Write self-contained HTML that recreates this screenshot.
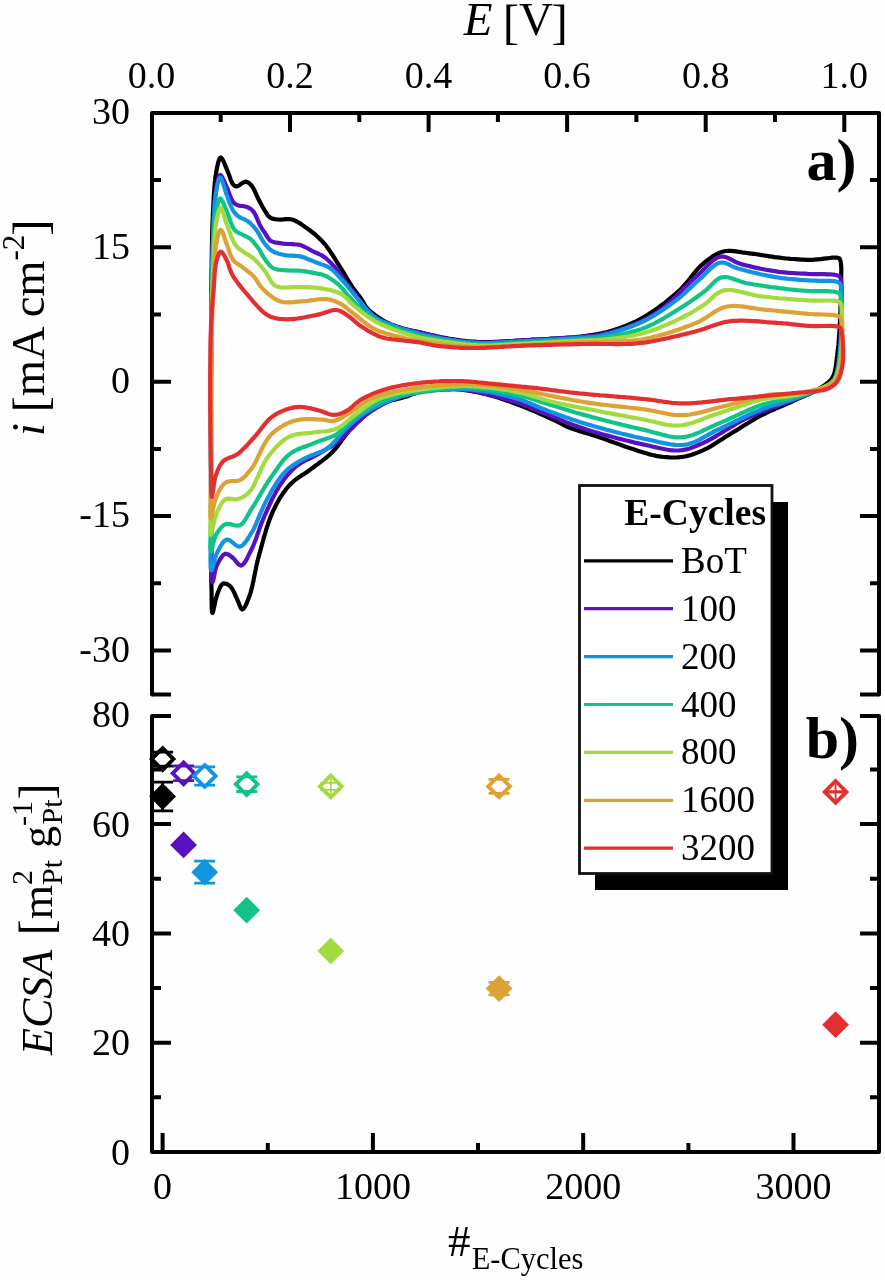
<!DOCTYPE html>
<html><head><meta charset="utf-8"><style>
html,body{margin:0;padding:0;background:#fff;}
svg{display:block;filter:blur(0.6px);}
</style></head><body>
<svg width="885" height="1280" viewBox="0 0 885 1280">
<rect width="885" height="1280" fill="#fefefe"/>
<path d="M212.5,613.0 212.2,612.5 212.0,611.1 211.8,609.0 211.7,606.4 211.7,603.3 211.6,600.0 211.6,596.6 211.6,593.2 211.5,590.0 211.5,588.0 211.4,585.8 211.4,583.7 211.3,581.5 211.3,579.2 211.3,576.9 211.3,574.5 211.3,572.1 211.3,569.6 211.3,567.1 211.2,564.6 211.2,562.0 211.2,559.3 211.2,556.7 211.2,554.0 211.2,551.2 211.2,548.5 211.2,545.7 211.2,542.9 211.2,540.0 211.2,537.8 211.2,535.7 211.2,533.4 211.2,531.2 211.2,528.9 211.2,526.6 211.1,524.2 211.1,521.9 211.1,519.5 211.1,517.0 211.1,514.6 211.1,512.1 211.1,509.6 211.1,507.1 211.1,504.6 211.1,502.1 211.1,499.5 211.1,496.9 211.1,494.4 211.1,491.8 211.1,489.2 211.1,486.6 211.0,483.9 211.0,481.3 211.0,478.7 211.0,476.1 211.0,473.4 211.0,470.8 211.0,468.2 211.0,465.6 211.0,463.0 211.0,460.4 211.0,457.7 211.0,455.2 211.0,452.6 211.0,450.0 211.0,447.6 211.0,445.1 211.0,442.6 211.0,440.1 211.0,437.6 211.0,435.1 211.0,432.6 211.0,430.1 211.0,427.5 211.0,425.0 211.0,422.4 211.0,419.8 211.0,417.3 211.0,414.7 211.0,412.1 211.0,409.5 211.0,406.9 210.9,404.4 210.9,401.8 210.9,399.2 210.9,396.6 210.9,394.1 210.9,391.5 210.9,389.0 210.9,386.4 210.9,383.9 210.9,381.4 210.9,378.9 210.9,376.4 210.9,373.9 211.0,371.4 211.0,368.9 211.0,366.5 211.0,364.1 211.0,361.7 211.0,359.3 211.0,356.9 211.0,354.6 211.0,352.3 211.0,350.0 211.0,347.3 211.0,344.6 211.0,342.0 211.0,339.3 211.1,336.7 211.1,334.1 211.1,331.6 211.1,329.0 211.1,326.5 211.1,324.0 211.1,321.5 211.1,319.0 211.2,316.5 211.2,314.0 211.2,311.6 211.2,309.1 211.2,306.7 211.2,304.3 211.3,301.8 211.3,299.4 211.3,297.0 211.3,294.6 211.4,292.1 211.4,289.7 211.4,287.3 211.4,284.9 211.5,282.4 211.5,280.0 211.5,277.4 211.6,274.7 211.6,272.1 211.6,269.5 211.7,266.8 211.7,264.2 211.7,261.5 211.7,258.9 211.8,256.3 211.8,253.6 211.8,251.0 211.9,248.4 211.9,245.8 212.0,243.2 212.0,240.6 212.1,238.0 212.1,235.5 212.2,233.0 212.3,230.5 212.3,228.0 212.4,225.5 212.5,223.1 212.6,220.7 212.7,218.3 212.8,216.0 212.9,213.1 213.1,210.3 213.2,207.4 213.4,204.5 213.5,201.6 213.7,198.8 213.8,195.9 214.0,193.1 214.2,190.4 214.4,187.7 214.6,185.2 214.8,182.6 215.1,180.2 215.3,177.9 215.6,175.7 216.0,173.6 216.3,171.7 217.0,167.9 217.8,164.1 218.7,160.8 219.6,158.4 220.7,157.5 221.7,158.2 222.9,160.1 224.2,162.8 225.4,165.9 226.7,169.0 227.8,171.7 228.9,174.5 230.0,177.6 231.0,180.5 232.1,183.0 233.3,184.8 235.1,186.1 237.0,186.5 239.2,185.3 241.5,183.5 243.9,182.2 246.4,181.6 249.2,183.1 251.9,186.0 253.3,188.1 254.6,190.7 255.9,193.5 257.1,196.3 258.4,199.0 259.7,201.5 261.0,204.0 262.4,206.5 263.7,208.9 265.0,211.0 266.6,213.5 268.1,215.8 270.0,217.5 272.3,218.6 274.9,219.1 277.8,219.5 280.4,219.6 283.2,219.4 286.2,219.1 289.1,219.1 292.0,219.5 294.4,220.3 296.8,221.5 299.2,222.9 301.6,224.4 303.9,226.1 306.3,227.8 308.4,229.3 310.5,230.8 312.6,232.5 314.7,234.2 316.8,236.0 318.9,237.9 320.9,239.9 322.9,242.0 324.5,243.8 326.1,245.8 327.6,247.9 329.2,250.1 330.8,252.4 332.3,254.7 333.8,257.0 335.3,259.4 336.7,261.6 338.1,263.9 339.4,266.0 340.7,268.0 342.3,270.6 343.9,273.2 345.3,275.6 346.7,278.0 348.1,280.4 349.5,282.7 351.0,285.0 352.7,287.5 354.5,289.9 356.3,292.2 358.0,294.6 359.7,296.8 361.3,299.0 362.9,301.6 364.3,304.1 365.8,306.6 367.8,309.0 369.6,310.7 371.6,312.5 373.9,314.2 376.3,316.0 378.8,317.7 381.3,319.3 383.7,320.7 386.0,322.0 388.3,323.2 390.6,324.2 392.9,325.1 395.2,325.9 397.5,326.7 400.0,327.5 402.3,328.2 404.6,328.9 407.0,329.5 409.5,330.1 412.0,330.7 414.6,331.3 417.3,331.9 420.0,332.5 422.3,333.0 424.8,333.6 427.3,334.2 429.9,334.8 432.5,335.4 435.1,335.9 437.8,336.5 440.5,337.1 443.1,337.6 445.8,338.1 448.4,338.6 451.0,339.0 453.6,339.4 456.2,339.8 458.8,340.2 461.3,340.5 463.8,340.8 466.4,341.1 468.9,341.3 471.6,341.6 474.3,341.7 477.1,341.9 480.0,342.0 482.2,342.1 484.5,342.1 486.9,342.1 489.2,342.0 491.7,342.0 494.1,341.9 496.6,341.8 499.1,341.7 501.7,341.6 504.3,341.4 506.9,341.3 509.5,341.1 512.1,341.0 514.8,340.8 517.4,340.6 520.1,340.5 522.7,340.3 525.4,340.2 528.0,340.0 530.5,339.9 533.1,339.7 535.7,339.6 538.3,339.5 541.0,339.3 543.7,339.2 546.4,339.0 549.2,338.9 551.9,338.7 554.7,338.6 557.4,338.4 560.1,338.3 562.8,338.1 565.5,337.9 568.1,337.7 570.7,337.5 573.3,337.3 575.8,337.1 578.2,336.8 580.5,336.6 582.8,336.3 585.0,336.0 588.0,335.6 590.9,335.2 593.6,334.7 596.3,334.3 598.9,333.8 601.4,333.3 603.9,332.7 606.4,332.2 608.9,331.5 611.4,330.8 614.0,330.0 616.3,329.2 618.6,328.5 620.9,327.7 623.3,326.8 625.6,325.9 627.9,325.0 630.2,324.0 632.5,323.0 634.8,321.9 637.1,320.8 639.4,319.6 641.7,318.3 644.0,317.0 646.1,315.8 648.2,314.5 650.3,313.1 652.5,311.7 654.6,310.2 656.8,308.7 659.0,307.1 661.1,305.5 663.3,303.9 665.4,302.3 667.5,300.6 669.6,298.9 671.6,297.2 673.6,295.5 675.6,293.8 677.5,292.2 679.3,290.5 681.2,288.7 683.0,286.7 684.8,284.8 686.5,282.8 688.2,280.7 689.8,278.7 691.4,276.6 693.0,274.6 694.6,272.7 696.2,270.7 697.8,268.9 699.4,267.2 701.1,265.5 702.8,264.0 705.0,262.2 707.2,260.4 709.5,258.7 711.7,257.1 714.0,255.6 716.3,254.3 718.6,253.2 721.0,252.2 723.4,251.5 725.8,251.0 728.3,250.9 730.8,250.9 733.4,251.1 736.0,251.4 738.6,251.8 741.3,252.2 744.1,252.7 746.9,253.0 749.2,253.3 751.6,253.6 754.0,253.9 756.5,254.3 759.1,254.7 761.7,255.1 764.3,255.5 766.9,255.9 769.5,256.3 772.1,256.7 774.6,257.1 777.2,257.4 779.7,257.7 782.1,258.0 784.9,258.3 787.6,258.5 790.4,258.8 793.1,259.0 795.8,259.2 798.5,259.4 801.1,259.6 803.7,259.7 806.4,259.8 808.9,259.8 811.5,259.8 814.4,259.7 817.5,259.4 820.7,259.1 823.8,258.7 826.8,258.3 829.6,258.0 832.1,257.7 834.3,257.6 836.0,257.6 838.1,257.8 839.5,258.5 840.5,260.8 841.0,264.0 841.2,266.3 841.3,268.8 841.3,271.5 841.2,274.6 841.2,278.0 841.2,279.9 841.2,282.0 841.1,284.3 841.1,286.6 841.0,289.1 841.0,291.7 840.9,294.4 840.9,297.1 840.8,299.8 840.7,302.6 840.6,305.4 840.5,308.1 840.5,310.8 840.3,313.5 840.2,316.1 840.1,318.6 840.0,321.0 839.8,323.8 839.7,326.6 839.5,329.3 839.4,332.0 839.2,334.7 839.0,337.3 838.8,339.9 838.6,342.5 838.4,345.0 838.1,347.5 837.8,350.0 837.5,352.5 837.2,355.2 836.8,357.9 836.5,360.7 836.2,363.4 835.9,366.0 835.4,368.6 834.9,371.1 834.3,373.4 833.5,375.6 832.5,377.5 831.1,379.6 829.4,381.4 827.6,383.0 825.6,384.5 823.4,385.9 821.0,387.5 819.2,388.6 817.2,389.8 815.1,390.9 812.9,392.0 810.6,393.2 808.2,394.3 805.7,395.4 803.2,396.5 800.7,397.6 798.2,398.7 795.8,399.8 793.3,400.9 791.0,402.0 788.5,403.1 786.1,404.2 783.6,405.3 781.2,406.3 778.7,407.4 776.2,408.4 773.8,409.5 771.3,410.6 768.9,411.7 766.4,412.8 764.0,414.0 761.6,415.2 759.3,416.4 757.0,417.7 754.8,419.0 752.5,420.3 750.2,421.7 748.0,423.1 745.7,424.4 743.5,425.8 741.2,427.3 739.0,428.7 736.7,430.1 734.5,431.4 732.2,432.8 729.9,434.2 727.6,435.6 725.3,437.1 723.0,438.6 720.7,440.0 718.4,441.5 716.1,443.0 713.8,444.4 711.6,445.8 709.3,447.1 707.1,448.3 704.9,449.4 702.8,450.4 700.1,451.6 697.5,452.6 695.0,453.6 692.5,454.5 690.0,455.3 687.5,455.9 684.9,456.5 682.3,456.9 679.8,457.2 677.2,457.4 674.6,457.5 672.0,457.5 669.3,457.4 666.7,457.2 664.0,457.0 661.4,456.7 658.8,456.3 656.2,455.9 653.7,455.3 651.2,454.7 648.7,454.1 646.2,453.3 643.7,452.6 641.1,451.7 638.4,450.9 635.6,450.0 633.4,449.3 631.2,448.6 628.9,447.8 626.6,447.0 624.2,446.2 621.8,445.3 619.4,444.4 616.9,443.5 614.5,442.6 612.0,441.7 609.6,440.9 607.1,440.0 604.7,439.1 602.3,438.3 600.0,437.5 597.4,436.6 594.8,435.8 592.1,435.0 589.4,434.1 586.8,433.3 584.1,432.5 581.5,431.7 578.9,430.9 576.4,430.1 574.1,429.3 571.8,428.5 569.7,427.8 567.8,427.0 565.1,425.8 563.0,424.7 560.9,423.5 558.7,422.3 556.0,421.0 554.2,420.2 552.2,419.3 550.1,418.3 547.9,417.3 545.5,416.2 543.1,415.1 540.5,414.0 538.0,412.9 535.3,411.7 532.7,410.6 530.1,409.5 527.5,408.4 524.9,407.4 522.4,406.4 519.9,405.4 517.6,404.5 514.9,403.5 512.3,402.5 509.7,401.6 507.1,400.7 504.6,399.8 502.0,398.9 499.5,398.1 497.0,397.3 494.5,396.6 492.0,395.8 489.5,395.2 487.0,394.5 484.2,393.8 481.4,393.1 478.6,392.5 475.8,391.9 473.0,391.4 470.2,390.9 467.5,390.5 464.9,390.1 462.4,389.7 460.0,389.5 457.3,389.3 454.7,389.2 452.3,389.2 449.9,389.3 447.4,389.4 444.7,389.5 442.2,389.6 439.5,389.8 436.7,390.0 433.8,390.2 430.9,390.4 428.0,390.7 425.2,391.1 422.5,391.5 420.0,392.0 417.2,392.7 414.6,393.5 412.2,394.4 409.7,395.3 407.3,396.2 404.7,397.1 402.2,397.8 399.7,398.4 397.1,399.0 394.6,399.7 392.0,400.3 389.5,401.1 387.0,402.0 384.6,403.0 382.3,404.0 380.0,405.2 377.7,406.4 375.4,407.7 373.1,409.1 370.8,410.7 369.0,412.1 367.1,413.5 365.2,415.1 363.3,416.7 361.4,418.4 359.5,420.2 357.6,422.0 355.7,423.8 353.9,425.7 352.2,427.5 350.5,429.3 348.6,431.4 346.8,433.7 345.0,436.0 343.2,438.4 341.5,440.7 339.9,442.9 338.3,445.1 336.8,447.0 335.3,448.8 333.3,451.0 331.6,452.8 329.8,454.5 327.6,456.4 325.9,457.8 324.0,459.3 322.0,460.9 319.8,462.5 317.6,464.2 315.3,465.8 313.1,467.5 310.9,469.1 308.7,470.7 306.6,472.2 304.4,473.7 302.2,475.1 300.0,476.6 297.9,478.0 295.7,479.6 293.6,481.2 291.6,483.0 289.7,484.9 288.1,486.7 286.6,488.5 285.1,490.5 283.6,492.5 282.2,494.6 280.8,496.7 279.4,498.9 278.1,501.2 276.8,503.6 275.5,506.0 274.3,508.5 273.1,511.0 272.1,513.2 271.2,515.4 270.3,517.7 269.4,520.1 268.5,522.6 267.7,525.1 266.8,527.6 266.0,530.2 265.3,532.8 264.5,535.4 263.7,538.1 263.0,540.7 262.3,543.3 261.6,545.9 260.9,548.5 260.2,551.1 259.5,553.6 258.8,556.1 258.1,558.7 257.5,561.4 256.8,564.1 256.2,566.9 255.7,569.6 255.1,572.4 254.5,575.2 254.0,577.9 253.5,580.5 252.9,583.1 252.4,585.7 251.8,588.1 251.2,590.4 250.6,592.6 250.0,594.6 249.3,596.5 247.9,600.1 246.5,603.6 245.0,606.6 243.5,608.7 242.2,609.5 241.0,608.5 239.9,606.0 238.7,602.9 237.5,600.0 236.4,597.7 235.3,595.1 234.1,592.4 232.8,589.9 231.4,587.7 230.0,586.0 226.6,583.8 223.2,583.4 221.7,584.6 220.4,586.6 219.2,589.3 218.0,592.2 217.0,595.0 216.2,597.7 215.4,600.9 214.7,604.3 214.0,607.6 213.4,610.4 212.9,612.3Z" fill="none" stroke="#000000" stroke-width="4.2" stroke-linejoin="round"/>
<path d="M212.5,582.2 212.2,581.6 211.9,580.1 211.8,577.8 211.7,574.9 211.7,571.5 211.6,567.8 211.6,563.9 211.5,560.0 211.5,558.4 211.4,556.7 211.4,554.9 211.4,553.0 211.3,551.0 211.3,548.9 211.3,546.7 211.3,544.5 211.2,542.2 211.2,539.8 211.2,537.4 211.2,534.9 211.2,532.3 211.1,529.7 211.1,527.1 211.1,524.4 211.1,521.6 211.1,518.9 211.1,516.1 211.1,513.2 211.1,510.4 211.1,507.6 211.1,504.7 211.1,501.8 211.0,498.9 211.0,496.1 211.0,493.2 211.0,490.4 211.0,487.5 211.0,484.7 211.0,481.9 211.0,479.2 211.0,476.4 211.0,473.8 211.0,471.1 211.0,468.5 211.0,466.0 211.0,463.5 211.0,461.1 211.0,458.7 211.0,456.4 211.0,454.2 211.0,452.1 211.0,450.0 211.0,447.1 211.0,444.3 211.0,441.6 211.0,439.0 211.0,436.5 211.0,434.1 211.0,431.7 211.0,429.4 211.0,427.1 211.0,424.9 211.0,422.6 211.0,420.3 211.0,418.0 211.0,415.6 211.0,413.3 211.0,410.8 211.0,408.2 211.0,405.6 211.0,402.9 211.0,400.0 211.0,397.9 211.0,395.7 211.0,393.5 211.0,391.3 211.0,389.0 211.0,386.7 211.0,384.3 211.0,381.9 211.0,379.4 211.0,376.9 211.1,374.4 211.1,371.8 211.1,369.3 211.1,366.7 211.1,364.1 211.1,361.4 211.1,358.8 211.1,356.1 211.1,353.5 211.1,350.8 211.1,348.1 211.1,345.4 211.2,342.8 211.2,340.1 211.2,337.4 211.2,334.8 211.2,332.1 211.2,329.5 211.2,326.9 211.3,324.3 211.3,321.7 211.3,319.2 211.3,316.7 211.3,314.2 211.4,311.7 211.4,309.3 211.4,306.9 211.4,304.6 211.5,302.3 211.5,300.0 211.5,297.2 211.6,294.5 211.6,291.8 211.7,289.1 211.7,286.4 211.7,283.8 211.8,281.2 211.8,278.6 211.9,276.0 211.9,273.4 211.9,270.9 212.0,268.4 212.0,265.9 212.1,263.4 212.2,260.9 212.2,258.5 212.3,256.1 212.3,253.7 212.4,251.3 212.5,248.9 212.6,246.5 212.6,244.2 212.7,241.9 212.8,239.6 212.9,237.3 213.0,235.0 213.1,232.3 213.2,229.5 213.3,226.7 213.5,224.0 213.6,221.2 213.7,218.5 213.8,215.8 213.9,213.1 214.1,210.4 214.2,207.9 214.4,205.3 214.6,202.9 214.7,200.5 215.0,198.2 215.2,196.0 215.4,193.9 215.7,191.9 216.0,190.0 216.6,186.7 217.2,183.3 217.8,180.2 218.5,177.6 219.3,175.7 220.2,175.0 221.3,175.8 222.6,177.9 224.0,180.9 225.4,184.1 226.7,187.0 227.8,189.6 228.8,192.4 229.9,195.3 230.9,198.0 232.1,200.4 233.3,202.3 235.8,204.4 238.7,205.6 241.2,206.0 243.9,206.2 246.4,206.7 248.7,207.7 250.9,209.1 253.0,211.0 254.4,213.0 255.8,215.6 257.0,218.4 258.3,221.4 259.4,224.1 260.6,226.4 262.1,228.8 263.5,230.9 265.0,233.0 266.7,235.8 268.5,238.7 270.7,240.9 273.5,242.1 276.7,242.7 280.2,243.2 283.0,243.6 286.0,243.8 289.0,244.0 291.9,244.2 294.4,244.4 297.2,244.5 300.0,244.9 302.4,245.8 305.0,247.0 307.9,248.5 310.7,250.1 313.4,251.5 316.2,252.8 319.0,254.0 321.7,255.4 324.4,257.1 326.4,258.7 328.4,260.5 330.5,262.5 332.5,264.7 334.5,266.8 336.3,269.0 338.0,271.0 339.8,273.3 341.4,275.7 342.9,278.0 344.4,280.3 346.0,282.5 347.6,284.6 349.2,286.6 350.8,288.6 352.4,290.7 354.2,293.0 355.5,294.9 356.9,296.9 358.3,299.0 359.7,301.2 361.2,303.4 362.8,305.6 364.4,307.7 366.0,309.7 367.8,311.5 369.8,313.3 372.0,315.0 374.3,316.5 376.7,318.0 379.1,319.4 381.4,320.7 383.8,321.9 386.0,323.0 388.8,324.3 391.5,325.4 394.2,326.3 397.0,327.1 400.0,328.0 402.3,328.6 404.6,329.2 407.0,329.7 409.5,330.2 412.0,330.7 414.6,331.3 417.3,331.8 420.0,332.4 422.3,332.9 424.8,333.5 427.3,334.1 429.9,334.8 432.5,335.4 435.1,336.1 437.8,336.7 440.5,337.4 443.1,338.0 445.8,338.5 448.4,339.0 451.0,339.5 453.6,339.9 456.2,340.3 458.8,340.7 461.3,341.0 463.8,341.4 466.4,341.6 468.9,341.9 471.6,342.1 474.3,342.3 477.1,342.4 480.0,342.5 482.2,342.5 484.5,342.5 486.9,342.5 489.2,342.5 491.7,342.4 494.1,342.3 496.6,342.1 499.1,342.0 501.7,341.8 504.3,341.7 506.9,341.5 509.5,341.3 512.1,341.1 514.8,340.9 517.4,340.7 520.1,340.5 522.7,340.3 525.4,340.2 528.0,340.0 530.5,339.9 533.1,339.7 535.8,339.6 538.6,339.4 541.4,339.3 544.2,339.1 547.0,339.0 549.9,338.8 552.8,338.6 555.7,338.5 558.5,338.3 561.3,338.2 564.1,338.0 566.8,337.8 569.4,337.7 572.0,337.5 574.4,337.3 576.8,337.2 579.1,337.0 581.2,336.8 583.2,336.7 585.0,336.5 588.0,336.2 590.5,336.0 592.8,335.8 595.0,335.5 597.3,335.1 600.0,334.6 602.2,334.1 604.4,333.6 606.8,333.1 609.3,332.5 611.9,331.8 614.5,331.1 617.1,330.4 619.8,329.6 622.4,328.7 625.0,327.9 627.5,327.0 630.0,326.0 632.5,325.0 634.9,324.0 637.3,323.0 639.7,321.9 642.1,320.8 644.4,319.6 646.8,318.4 649.2,317.1 651.6,315.7 653.9,314.2 656.4,312.7 658.8,311.0 660.7,309.6 662.6,308.2 664.5,306.6 666.4,305.0 668.4,303.3 670.4,301.5 672.4,299.6 674.3,297.8 676.3,295.9 678.3,293.9 680.3,292.0 682.2,290.1 684.2,288.1 686.1,286.3 688.0,284.4 689.9,282.6 691.7,280.8 693.5,279.1 695.3,277.5 697.0,276.0 699.1,274.1 701.2,272.1 703.2,270.0 705.1,268.0 707.1,266.0 709.0,264.1 710.8,262.3 712.7,260.7 714.6,259.3 716.5,258.1 718.4,257.2 720.4,256.7 722.9,256.6 725.4,257.0 727.8,257.9 730.3,259.1 732.8,260.4 735.4,261.8 738.1,263.0 741.0,264.0 743.2,264.6 745.5,265.2 747.9,265.8 750.4,266.4 752.9,267.0 755.5,267.6 758.1,268.1 760.7,268.7 763.3,269.2 766.0,269.7 768.6,270.2 771.2,270.6 773.8,271.0 776.3,271.4 778.9,271.8 781.6,272.1 784.2,272.3 786.8,272.6 789.5,272.8 792.1,273.0 794.8,273.2 797.4,273.3 800.0,273.5 802.5,273.6 805.1,273.7 807.6,273.9 810.0,274.0 812.8,274.1 815.8,274.2 818.8,274.2 821.7,274.2 824.7,274.2 827.4,274.3 830.0,274.3 832.3,274.5 834.4,274.7 836.0,275.0 838.4,275.7 840.0,277.0 840.9,279.0 841.2,281.6 841.5,285.0 841.6,286.6 841.7,288.4 841.8,290.4 841.8,292.6 841.9,295.0 841.9,297.5 841.9,300.1 841.8,302.8 841.8,305.6 841.7,308.4 841.7,311.2 841.6,314.1 841.5,316.9 841.4,319.7 841.3,322.4 841.2,325.0 841.1,327.6 841.0,330.0 840.9,332.7 840.7,335.4 840.6,338.1 840.4,340.8 840.3,343.4 840.1,346.1 839.9,348.7 839.7,351.3 839.4,353.8 839.2,356.2 838.9,358.6 838.6,360.8 838.3,363.0 838.0,365.0 837.5,368.0 837.1,370.7 836.6,373.3 836.0,375.7 835.2,378.0 834.0,380.0 832.2,382.0 830.1,383.6 827.7,385.1 824.9,386.5 822.0,388.0 820.1,389.0 818.1,389.9 816.0,390.9 813.8,391.9 811.5,392.9 809.0,393.9 806.6,394.9 804.0,395.9 801.5,396.9 798.9,397.9 796.2,398.9 793.6,400.0 791.0,401.0 788.7,401.9 786.4,402.8 784.1,403.7 781.7,404.5 779.3,405.4 776.8,406.3 774.4,407.2 771.9,408.1 769.4,409.0 766.8,409.9 764.3,410.9 761.8,411.8 759.3,412.8 756.8,413.8 754.3,414.8 751.8,415.9 749.3,417.0 746.9,418.1 744.6,419.2 742.4,420.4 740.1,421.6 737.8,422.9 735.5,424.2 733.2,425.6 730.9,427.0 728.6,428.4 726.3,429.8 724.0,431.2 721.7,432.6 719.5,434.0 717.3,435.3 715.1,436.6 712.9,437.9 710.8,439.1 708.7,440.2 706.7,441.3 704.7,442.2 702.8,443.1 700.0,444.3 697.3,445.5 694.7,446.6 692.2,447.5 689.8,448.4 687.3,449.1 684.8,449.7 682.1,450.1 679.3,450.4 677.0,450.5 674.7,450.5 672.4,450.3 670.0,450.1 667.6,449.7 665.2,449.3 662.7,448.8 660.1,448.3 657.6,447.7 654.9,447.1 652.3,446.5 649.6,445.8 646.8,445.2 644.0,444.6 641.8,444.1 639.5,443.6 637.2,443.1 634.8,442.6 632.4,442.0 629.9,441.4 627.4,440.8 624.9,440.2 622.3,439.5 619.7,438.9 617.1,438.2 614.5,437.5 611.9,436.8 609.3,436.1 606.7,435.4 604.1,434.7 601.6,434.0 599.1,433.3 596.6,432.6 594.1,431.9 591.7,431.1 589.4,430.4 587.1,429.7 584.9,429.0 582.2,428.1 579.6,427.2 577.0,426.3 574.5,425.4 572.0,424.5 569.5,423.5 567.1,422.6 564.7,421.6 562.4,420.7 560.0,419.7 557.7,418.8 555.4,417.8 553.1,416.9 550.9,416.0 548.6,415.1 546.4,414.2 543.9,413.2 541.5,412.2 539.2,411.2 536.9,410.2 534.6,409.2 532.4,408.3 530.2,407.3 527.8,406.4 525.5,405.4 523.0,404.5 520.4,403.6 517.6,402.7 515.5,402.0 513.3,401.4 511.0,400.7 508.7,400.0 506.3,399.3 503.8,398.5 501.3,397.8 498.7,397.1 496.1,396.4 493.5,395.7 490.8,395.0 488.1,394.4 485.5,393.7 482.8,393.1 480.1,392.5 477.5,392.0 474.8,391.4 472.2,390.9 469.7,390.5 467.2,390.1 464.7,389.7 462.3,389.4 460.0,389.2 457.3,389.0 454.6,388.8 451.9,388.7 449.3,388.6 446.6,388.6 444.0,388.7 441.5,388.8 438.9,388.9 436.4,389.0 433.9,389.2 431.5,389.5 429.1,389.7 426.7,390.0 424.4,390.3 422.2,390.6 420.0,391.0 417.3,391.5 414.8,392.0 412.3,392.6 409.9,393.2 407.6,393.8 405.3,394.6 403.0,395.3 400.7,396.2 398.4,397.0 396.0,398.0 393.6,399.0 391.2,400.1 388.8,401.2 386.3,402.4 383.9,403.7 381.4,405.0 379.1,406.3 376.7,407.7 374.4,409.1 372.2,410.5 370.0,412.0 367.8,413.6 365.7,415.2 363.7,417.0 361.7,418.7 359.7,420.5 357.8,422.3 355.9,424.1 354.1,425.9 352.3,427.6 350.5,429.3 348.5,431.2 346.6,433.2 344.8,435.0 343.0,436.9 341.1,438.7 339.2,440.5 337.1,442.2 334.9,443.8 332.7,445.4 330.4,446.9 328.0,448.3 325.5,449.8 323.1,451.2 320.6,452.7 318.1,454.1 315.8,455.4 313.4,456.6 310.9,457.8 308.5,459.0 306.0,460.2 303.6,461.5 301.2,462.8 299.0,464.3 296.8,465.9 294.9,467.5 293.1,469.1 291.4,470.8 289.7,472.6 288.0,474.5 286.4,476.4 284.8,478.4 283.3,480.5 281.7,482.7 280.2,484.9 278.9,486.9 277.6,489.1 276.3,491.3 275.1,493.6 273.8,496.0 272.6,498.4 271.4,500.8 270.2,503.3 269.1,505.8 267.9,508.3 266.8,510.8 265.7,513.3 264.6,515.7 263.6,518.1 262.6,520.5 261.6,523.0 260.6,525.5 259.7,528.0 258.9,530.5 258.0,533.0 257.1,535.5 256.3,537.9 255.4,540.3 254.5,542.6 253.6,544.8 252.7,547.0 251.7,549.0 250.2,552.0 248.7,555.1 247.2,558.2 245.7,561.0 244.1,563.3 242.5,564.9 241.0,565.6 239.0,564.8 237.0,562.7 235.0,560.1 233.0,558.0 230.5,556.0 228.0,554.2 225.6,553.7 223.7,554.7 221.9,556.7 220.1,559.3 218.4,562.2 217.0,565.0 216.0,567.5 215.2,570.6 214.5,573.9 213.9,577.0 213.4,579.7 212.9,581.5Z" fill="none" stroke="#5810c0" stroke-width="4.2" stroke-linejoin="round"/>
<path d="M211.4,570.4 211.1,570.1 210.9,569.5 210.8,568.4 210.6,567.0 210.6,565.3 210.5,563.2 210.5,560.9 210.5,558.4 210.5,555.7 210.6,552.7 210.7,549.7 210.7,546.5 210.8,543.2 210.9,539.8 211.0,536.4 211.1,533.0 211.1,529.7 211.2,526.4 211.2,523.1 211.2,520.0 211.2,518.0 211.2,516.0 211.2,513.9 211.2,511.8 211.2,509.6 211.2,507.4 211.2,505.1 211.1,502.8 211.1,500.5 211.1,498.2 211.1,495.8 211.1,493.3 211.1,490.9 211.1,488.4 211.1,485.9 211.1,483.4 211.1,480.8 211.1,478.3 211.1,475.7 211.1,473.1 211.1,470.5 211.1,467.8 211.0,465.2 211.0,462.5 211.0,459.9 211.0,457.2 211.0,454.5 211.0,451.8 211.0,449.1 211.0,446.5 211.0,443.8 211.0,441.1 211.0,438.4 211.0,435.7 211.0,433.1 211.0,430.4 211.0,427.8 211.0,425.2 211.0,422.6 211.0,420.0 211.0,417.4 211.0,414.8 211.0,412.3 211.0,409.8 211.0,407.3 211.0,404.8 211.0,402.4 211.0,400.0 211.0,397.4 211.0,394.8 211.0,392.1 211.0,389.5 211.0,386.9 211.0,384.3 211.0,381.6 211.0,379.0 211.0,376.4 211.0,373.8 211.0,371.1 211.1,368.5 211.1,365.9 211.1,363.3 211.1,360.7 211.1,358.1 211.1,355.5 211.1,353.0 211.1,350.4 211.1,347.8 211.1,345.3 211.1,342.8 211.1,340.2 211.2,337.7 211.2,335.2 211.2,332.8 211.2,330.3 211.2,327.8 211.2,325.4 211.2,323.0 211.3,320.6 211.3,318.2 211.3,315.9 211.3,313.5 211.4,311.2 211.4,308.9 211.4,306.7 211.4,304.4 211.5,302.2 211.5,300.0 211.5,297.2 211.6,294.4 211.6,291.7 211.7,289.0 211.7,286.4 211.8,283.8 211.8,281.2 211.9,278.6 211.9,276.1 212.0,273.5 212.0,271.1 212.1,268.6 212.1,266.1 212.2,263.7 212.2,261.3 212.3,258.9 212.4,256.5 212.5,254.1 212.5,251.8 212.6,249.4 212.7,247.0 212.8,244.7 212.9,242.3 213.0,240.0 213.1,237.2 213.2,234.4 213.3,231.5 213.5,228.7 213.6,225.8 213.7,222.9 213.8,220.1 213.9,217.3 214.1,214.5 214.2,211.8 214.4,209.1 214.5,206.5 214.7,204.0 214.9,201.6 215.2,199.3 215.4,197.0 215.7,195.0 216.0,193.0 216.6,189.6 217.2,186.1 217.9,182.9 218.6,180.2 219.4,178.4 220.2,177.7 221.0,178.3 221.9,180.1 222.8,182.6 223.8,185.6 224.8,188.9 225.7,192.0 226.7,194.7 227.6,197.1 228.5,199.7 229.4,202.2 230.3,204.7 231.3,207.0 232.3,209.2 233.3,211.0 235.0,213.2 236.7,215.0 238.7,216.6 241.5,218.1 244.5,219.4 247.5,221.0 249.8,222.8 252.0,224.9 254.1,227.2 256.2,229.7 257.7,231.9 259.2,234.3 260.6,236.9 262.0,239.5 263.5,241.9 265.0,244.0 266.9,246.2 268.8,248.2 270.8,250.0 273.1,251.5 275.8,252.8 278.7,253.7 281.8,254.5 284.9,255.1 287.3,255.4 289.8,255.6 292.3,255.7 294.9,255.8 297.5,256.0 300.0,256.4 302.7,257.1 305.5,258.1 308.2,259.2 311.0,260.3 313.7,261.4 316.3,262.5 319.1,263.5 321.9,264.4 324.6,265.4 327.2,266.5 329.8,268.0 331.9,269.5 333.9,271.2 335.8,273.1 337.7,275.2 339.6,277.3 341.5,279.4 343.4,281.5 345.1,283.4 346.8,285.4 348.5,287.4 350.1,289.5 351.8,291.5 353.5,293.6 355.2,295.7 357.0,297.8 358.6,299.7 360.3,301.7 362.0,303.8 363.8,305.9 365.5,308.0 367.3,310.1 369.1,312.0 370.9,313.8 372.8,315.5 374.6,317.0 377.0,318.7 379.4,320.1 381.9,321.2 384.4,322.3 387.1,323.4 390.0,324.5 392.1,325.3 394.4,326.2 396.7,327.0 399.2,327.9 401.7,328.7 404.3,329.5 406.9,330.3 409.5,331.1 412.2,331.9 414.8,332.6 417.4,333.3 420.0,334.0 422.6,334.6 425.1,335.2 427.7,335.8 430.3,336.4 432.9,336.9 435.5,337.4 438.1,337.9 440.7,338.3 443.3,338.8 445.9,339.2 448.4,339.6 451.0,340.0 453.6,340.4 456.2,340.8 458.8,341.1 461.3,341.5 463.8,341.8 466.4,342.1 468.9,342.3 471.6,342.5 474.3,342.7 477.1,342.9 480.0,343.0 482.2,343.1 484.5,343.1 486.9,343.1 489.2,343.0 491.7,343.0 494.1,342.9 496.6,342.8 499.1,342.7 501.7,342.6 504.3,342.4 506.9,342.3 509.5,342.1 512.1,341.9 514.8,341.8 517.4,341.6 520.1,341.4 522.7,341.3 525.4,341.1 528.0,341.0 530.5,340.9 533.1,340.7 535.8,340.6 538.6,340.4 541.4,340.3 544.2,340.1 547.0,340.0 549.9,339.8 552.8,339.6 555.6,339.5 558.5,339.3 561.3,339.1 564.1,338.9 566.8,338.8 569.4,338.6 572.0,338.4 574.4,338.3 576.8,338.1 579.1,337.9 581.2,337.8 583.2,337.6 585.0,337.5 588.0,337.3 590.4,337.2 592.6,337.1 594.8,336.9 597.2,336.5 600.0,336.0 601.9,335.6 603.9,335.1 606.1,334.5 608.4,333.9 610.8,333.2 613.3,332.5 615.8,331.7 618.4,330.9 621.1,330.1 623.7,329.2 626.4,328.2 629.0,327.3 631.7,326.3 634.3,325.3 636.8,324.2 639.3,323.2 641.7,322.1 644.0,321.0 646.4,319.8 648.8,318.5 651.1,317.2 653.5,315.9 655.8,314.4 658.1,313.0 660.3,311.5 662.6,310.0 664.8,308.5 666.9,307.0 669.1,305.5 671.1,304.0 673.2,302.4 675.2,300.9 677.1,299.5 679.0,298.0 681.2,296.3 683.2,294.5 685.2,292.8 687.1,291.0 689.0,289.3 690.8,287.5 692.6,285.8 694.4,284.0 696.3,282.3 698.1,280.7 700.0,279.0 702.0,277.2 704.1,275.2 706.1,273.1 708.1,271.1 710.2,269.1 712.2,267.2 714.2,265.6 716.3,264.2 718.3,263.2 720.4,262.6 722.8,262.5 725.2,263.0 727.5,263.9 729.9,265.0 732.4,266.3 735.1,267.5 738.0,268.5 740.1,269.1 742.4,269.7 744.7,270.3 747.2,271.0 749.7,271.6 752.3,272.3 755.0,272.9 757.7,273.5 760.4,274.2 763.1,274.8 765.8,275.3 768.5,275.9 771.2,276.4 773.8,276.9 776.3,277.3 779.0,277.7 781.6,278.1 784.3,278.4 786.9,278.7 789.6,279.0 792.2,279.2 794.8,279.4 797.4,279.6 800.0,279.8 802.6,280.0 805.1,280.2 807.6,280.3 810.0,280.5 812.8,280.6 815.8,280.7 818.8,280.8 821.7,280.8 824.7,280.8 827.4,280.8 830.0,280.9 832.3,281.0 834.4,281.2 836.0,281.5 838.4,282.2 840.0,283.5 840.8,285.5 841.2,288.1 841.4,291.3 841.5,295.0 841.6,296.8 841.7,298.7 841.7,300.9 841.8,303.2 841.8,305.6 841.8,308.1 841.8,310.7 841.8,313.4 841.8,316.1 841.8,318.9 841.7,321.7 841.7,324.5 841.6,327.2 841.5,330.0 841.4,332.6 841.3,335.2 841.1,337.6 841.0,340.0 840.8,342.9 840.6,345.9 840.3,348.9 840.1,351.8 839.8,354.8 839.5,357.6 839.1,360.4 838.8,363.0 838.4,365.6 837.9,367.9 837.5,370.1 837.0,372.0 836.0,375.6 834.8,378.4 833.0,381.0 831.3,382.6 829.4,384.0 827.2,385.3 824.7,386.6 822.0,388.0 820.2,388.9 818.1,389.8 816.0,390.7 813.7,391.7 811.3,392.7 808.8,393.6 806.2,394.6 803.6,395.5 801.0,396.5 798.5,397.4 795.9,398.3 793.4,399.2 791.0,400.0 788.6,400.8 786.1,401.6 783.7,402.3 781.4,403.0 779.0,403.7 776.6,404.4 774.2,405.1 771.8,405.8 769.3,406.6 766.8,407.4 764.2,408.3 761.6,409.3 759.5,410.2 757.3,411.1 755.0,412.0 752.7,413.0 750.4,414.1 748.0,415.2 745.6,416.3 743.2,417.5 740.8,418.6 738.4,419.8 736.0,421.0 733.6,422.2 731.2,423.3 728.8,424.5 726.5,425.6 724.2,426.7 721.9,427.8 719.7,428.9 717.5,429.9 715.1,431.1 712.7,432.3 710.4,433.6 708.1,434.9 705.8,436.1 703.6,437.4 701.4,438.6 699.2,439.8 696.9,440.9 694.7,441.9 692.4,442.8 690.1,443.5 687.7,444.2 685.2,444.6 682.8,444.9 680.4,445.0 678.0,445.0 675.5,444.9 673.0,444.6 670.5,444.3 668.0,443.9 665.4,443.4 662.8,442.9 660.2,442.4 657.6,441.7 654.9,441.1 652.2,440.5 649.5,439.9 646.8,439.3 644.0,438.7 641.7,438.2 639.4,437.7 637.0,437.2 634.6,436.7 632.1,436.1 629.6,435.5 627.1,434.9 624.6,434.3 622.0,433.7 619.4,433.0 616.8,432.4 614.3,431.7 611.7,431.0 609.1,430.4 606.5,429.7 604.0,429.0 601.5,428.3 599.0,427.6 596.5,426.9 594.1,426.2 591.7,425.5 589.4,424.8 587.1,424.2 584.9,423.5 582.2,422.7 579.6,421.9 577.1,421.1 574.5,420.2 572.0,419.4 569.6,418.6 567.1,417.8 564.7,416.9 562.4,416.1 560.0,415.3 557.7,414.4 555.4,413.6 553.1,412.8 550.9,412.0 548.6,411.1 546.4,410.3 543.9,409.3 541.4,408.3 539.1,407.3 536.8,406.3 534.5,405.3 532.2,404.3 530.0,403.3 527.6,402.4 525.3,401.4 522.8,400.5 520.3,399.6 517.6,398.8 515.4,398.2 513.1,397.5 510.8,396.9 508.4,396.3 505.9,395.7 503.4,395.1 500.8,394.5 498.3,393.9 495.7,393.3 493.1,392.8 490.4,392.3 487.8,391.8 485.2,391.4 482.6,391.0 480.0,390.6 477.4,390.3 474.9,390.0 472.4,389.7 470.0,389.5 467.4,389.3 464.8,389.2 462.3,389.1 459.7,389.1 457.1,389.1 454.6,389.1 452.1,389.2 449.6,389.3 447.1,389.4 444.6,389.6 442.1,389.7 439.7,390.0 437.2,390.2 434.8,390.4 432.4,390.7 430.0,391.0 427.3,391.3 424.6,391.7 421.9,392.1 419.3,392.5 416.7,393.0 414.1,393.4 411.5,394.0 408.9,394.5 406.3,395.1 403.8,395.8 401.3,396.5 398.8,397.2 396.3,398.0 393.8,398.9 391.4,399.8 388.9,400.7 386.4,401.7 384.0,402.8 381.6,403.9 379.2,405.0 376.8,406.2 374.5,407.4 372.2,408.6 370.0,409.8 367.9,411.1 365.8,412.4 363.5,413.9 361.3,415.5 359.1,417.1 357.1,418.8 355.1,420.5 353.1,422.2 351.1,424.0 349.2,425.7 347.3,427.5 345.4,429.3 343.6,431.1 341.8,433.1 340.1,435.0 338.4,437.1 336.7,439.1 335.0,441.1 333.3,443.0 331.5,444.8 329.6,446.5 327.6,448.1 325.5,449.5 323.2,450.7 320.8,451.8 318.4,452.8 315.9,453.8 313.4,454.7 310.9,455.6 308.5,456.6 306.1,457.6 303.9,458.8 301.6,460.1 299.4,461.3 297.2,462.6 295.1,463.9 292.9,465.2 290.9,466.7 288.8,468.3 286.9,470.0 284.9,471.9 283.4,473.6 281.9,475.3 280.4,477.2 279.0,479.2 277.6,481.3 276.2,483.5 274.8,485.7 273.5,487.9 272.1,490.2 270.8,492.5 269.6,494.8 268.3,497.0 267.1,499.3 265.9,501.5 264.7,503.9 263.5,506.3 262.4,508.8 261.3,511.3 260.2,513.9 259.2,516.4 258.1,518.9 257.1,521.4 256.1,523.8 255.0,526.1 254.0,528.4 252.9,530.5 251.7,532.4 250.1,535.0 248.5,537.7 246.8,540.2 245.2,542.5 243.4,544.5 241.7,545.9 239.8,546.6 237.3,546.1 234.6,544.2 231.8,541.9 229.2,540.0 226.8,539.5 224.9,540.5 223.1,542.3 221.4,544.7 219.8,547.5 218.3,550.3 217.0,553.0 215.9,555.6 214.9,558.8 214.1,562.1 213.3,565.3 212.6,567.9 211.9,569.8Z" fill="none" stroke="#1094e0" stroke-width="4.2" stroke-linejoin="round"/>
<path d="M210.9,551.4 210.6,551.0 210.5,549.9 210.4,548.3 210.3,546.2 210.4,543.6 210.5,540.7 210.6,537.5 210.7,534.1 210.8,530.5 210.9,527.0 211.0,523.4 211.0,520.0 211.0,518.2 211.0,516.3 211.0,514.3 211.0,512.3 211.0,510.2 211.0,508.1 211.0,505.9 211.0,503.6 211.0,501.3 211.0,499.0 211.0,496.6 211.0,494.1 211.0,491.7 211.0,489.2 211.0,486.6 211.0,484.1 211.0,481.5 211.0,478.8 211.0,476.2 211.0,473.5 211.0,470.8 211.0,468.1 211.0,465.4 211.0,462.7 211.0,460.0 211.0,457.2 211.0,454.5 211.0,451.8 211.0,449.0 211.0,446.3 211.0,443.6 211.0,440.9 211.0,438.2 211.0,435.5 211.0,432.9 211.0,430.3 211.0,427.6 211.0,425.1 211.0,422.5 211.0,420.0 211.0,417.5 211.0,415.0 211.0,412.4 211.0,409.9 211.0,407.3 211.0,404.8 211.0,402.2 211.0,399.6 211.0,397.0 211.1,394.4 211.1,391.8 211.1,389.3 211.1,386.7 211.1,384.1 211.1,381.5 211.1,378.9 211.1,376.3 211.1,373.7 211.1,371.1 211.1,368.5 211.1,365.9 211.1,363.4 211.2,360.8 211.2,358.3 211.2,355.8 211.2,353.2 211.2,350.7 211.2,348.3 211.2,345.8 211.3,343.3 211.3,340.9 211.3,338.5 211.3,336.1 211.3,333.7 211.4,331.4 211.4,329.0 211.4,326.7 211.4,324.5 211.5,322.2 211.5,320.0 211.5,317.1 211.6,314.3 211.6,311.5 211.7,308.7 211.7,305.9 211.8,303.2 211.8,300.5 211.8,297.9 211.9,295.2 211.9,292.6 212.0,290.0 212.1,287.5 212.1,284.9 212.2,282.4 212.2,279.9 212.3,277.4 212.4,274.9 212.4,272.5 212.5,270.0 212.6,267.6 212.7,265.2 212.8,262.8 212.9,260.4 213.0,258.0 213.1,255.3 213.2,252.5 213.3,249.8 213.5,247.0 213.6,244.3 213.7,241.5 213.8,238.8 213.9,236.1 214.1,233.5 214.2,230.9 214.4,228.3 214.5,225.9 214.7,223.5 214.9,221.2 215.2,219.0 215.4,216.9 215.7,214.9 216.0,213.0 216.6,209.8 217.2,206.5 217.8,203.5 218.5,201.0 219.3,199.2 220.2,198.5 221.3,199.3 222.6,201.5 224.0,204.5 225.4,207.9 226.7,211.0 227.6,213.2 228.5,215.7 229.4,218.4 230.3,221.0 231.3,223.6 232.2,226.0 233.3,228.0 234.4,229.7 236.5,231.6 238.7,232.8 241.0,234.0 243.8,235.4 246.8,236.7 249.7,238.4 251.6,240.0 253.4,241.9 255.1,244.0 256.8,246.2 258.4,248.3 259.8,250.4 261.1,252.7 262.3,254.9 263.6,257.1 265.0,259.2 266.8,261.7 268.6,264.1 270.7,266.4 273.1,268.1 275.5,269.0 278.2,269.6 281.2,270.0 284.2,270.2 287.1,270.3 289.7,270.5 292.4,270.6 294.9,270.6 297.4,270.6 300.0,270.7 302.6,271.0 305.3,271.4 308.1,271.9 310.8,272.4 313.4,272.9 316.2,273.4 319.0,273.8 321.7,274.5 324.4,275.4 326.7,276.4 329.0,277.7 331.3,279.1 333.6,280.7 335.8,282.4 338.0,284.2 339.8,285.8 341.5,287.6 343.1,289.4 344.7,291.4 346.4,293.3 348.0,295.3 349.7,297.3 351.5,299.2 353.2,301.0 354.9,302.8 356.6,304.6 358.3,306.5 360.1,308.3 361.9,310.1 363.8,311.8 365.8,313.5 367.8,315.0 369.8,316.4 371.8,317.7 373.9,318.9 376.1,320.1 378.3,321.3 380.6,322.4 382.9,323.5 385.2,324.5 387.6,325.5 390.0,326.5 392.3,327.4 394.7,328.3 397.1,329.1 399.6,329.9 402.1,330.7 404.6,331.4 407.2,332.2 409.7,332.9 412.3,333.6 414.9,334.2 417.5,334.9 420.0,335.5 422.6,336.1 425.1,336.7 427.7,337.3 430.3,337.8 432.9,338.4 435.5,338.9 438.1,339.4 440.7,339.8 443.3,340.3 445.9,340.7 448.4,341.1 451.0,341.5 453.6,341.9 456.2,342.3 458.8,342.6 461.3,343.0 463.8,343.3 466.4,343.6 468.9,343.8 471.6,344.0 474.3,344.2 477.1,344.4 480.0,344.5 482.2,344.6 484.5,344.6 486.9,344.6 489.2,344.5 491.7,344.5 494.1,344.4 496.6,344.3 499.1,344.2 501.7,344.1 504.3,343.9 506.9,343.8 509.5,343.6 512.1,343.4 514.8,343.3 517.4,343.1 520.1,342.9 522.7,342.8 525.4,342.6 528.0,342.5 530.5,342.4 533.1,342.2 535.8,342.1 538.6,341.9 541.4,341.8 544.2,341.6 547.0,341.4 549.9,341.2 552.8,341.1 555.6,340.9 558.5,340.7 561.3,340.5 564.1,340.4 566.8,340.2 569.4,340.0 572.0,339.8 574.4,339.7 576.8,339.5 579.1,339.4 581.2,339.2 583.2,339.1 585.0,339.0 588.0,338.8 590.4,338.8 592.6,338.7 594.8,338.6 597.2,338.4 600.0,338.0 601.9,337.7 603.9,337.4 606.1,337.1 608.3,336.7 610.7,336.3 613.2,335.9 615.7,335.4 618.3,334.9 620.9,334.4 623.6,333.8 626.2,333.2 628.9,332.6 631.5,331.9 634.1,331.2 636.7,330.5 639.2,329.7 641.7,328.9 644.0,328.0 646.4,327.1 648.8,326.0 651.1,324.9 653.5,323.8 655.9,322.6 658.2,321.4 660.5,320.1 662.8,318.8 665.1,317.5 667.3,316.1 669.6,314.8 671.7,313.4 673.9,312.1 676.0,310.8 678.0,309.5 680.0,308.2 682.0,307.0 684.4,305.5 686.6,304.0 688.9,302.6 691.0,301.1 693.1,299.6 695.2,298.2 697.2,296.7 699.2,295.3 701.2,293.9 703.1,292.4 705.0,291.0 707.2,289.1 709.3,287.1 711.3,285.0 713.3,283.0 715.3,281.1 717.4,279.4 719.6,278.1 722.0,277.3 724.2,277.0 726.4,277.1 728.7,277.5 731.1,278.2 733.6,279.0 736.1,279.9 738.7,280.8 741.3,281.7 744.1,282.6 746.9,283.2 749.2,283.6 751.6,284.0 754.2,284.5 756.8,284.9 759.5,285.3 762.3,285.7 765.1,286.2 767.9,286.6 770.7,287.0 773.5,287.3 776.3,287.7 779.0,288.1 781.6,288.4 784.1,288.7 786.6,289.0 788.9,289.3 791.0,289.5 794.1,289.8 796.9,290.1 799.5,290.3 802.1,290.5 804.6,290.7 807.2,290.8 810.0,291.0 812.5,291.1 815.3,291.2 818.2,291.2 821.2,291.2 824.2,291.2 827.1,291.2 829.8,291.3 832.2,291.5 834.3,291.7 836.0,292.0 838.4,292.7 840.0,294.0 840.8,295.9 841.2,298.5 841.3,301.5 841.5,305.0 841.6,306.8 841.7,308.9 841.7,311.1 841.8,313.4 841.8,315.9 841.8,318.5 841.8,321.2 841.8,323.9 841.7,326.7 841.7,329.5 841.6,332.2 841.5,335.0 841.4,337.6 841.3,340.2 841.2,342.7 841.0,345.0 840.8,348.0 840.6,351.0 840.3,354.0 840.0,356.9 839.7,359.8 839.4,362.6 839.0,365.2 838.6,367.7 838.1,369.9 837.5,372.0 836.6,374.7 835.7,377.0 834.5,379.1 833.0,381.0 831.3,382.6 829.4,384.1 827.2,385.4 824.7,386.7 822.0,388.0 820.2,388.8 818.1,389.6 816.0,390.5 813.7,391.3 811.3,392.1 808.8,392.9 806.2,393.7 803.6,394.4 801.0,395.2 798.5,395.9 795.9,396.6 793.4,397.3 791.0,398.0 788.6,398.6 786.1,399.2 783.7,399.7 781.3,400.2 779.0,400.7 776.6,401.2 774.2,401.6 771.7,402.2 769.3,402.7 766.8,403.4 764.2,404.1 761.6,404.9 759.5,405.6 757.3,406.4 755.0,407.3 752.7,408.2 750.4,409.2 748.1,410.2 745.7,411.3 743.3,412.4 741.0,413.4 738.6,414.6 736.1,415.7 733.7,416.8 731.4,417.9 729.0,419.0 726.6,420.1 724.3,421.1 722.0,422.1 719.7,423.1 717.5,424.0 715.1,425.0 712.6,426.1 710.3,427.2 707.9,428.3 705.6,429.4 703.3,430.5 701.0,431.6 698.7,432.6 696.4,433.5 694.1,434.4 691.8,435.2 689.4,435.9 687.1,436.5 684.7,436.9 682.3,437.2 679.8,437.3 677.4,437.3 674.9,437.1 672.5,436.9 670.0,436.5 667.5,436.0 665.1,435.4 662.5,434.8 660.0,434.1 657.4,433.4 654.9,432.7 652.2,432.0 649.5,431.2 646.8,430.5 644.0,429.9 641.8,429.4 639.5,428.9 637.1,428.3 634.7,427.8 632.3,427.2 629.8,426.6 627.3,426.0 624.7,425.4 622.2,424.8 619.6,424.1 617.0,423.5 614.4,422.8 611.8,422.2 609.2,421.5 606.7,420.9 604.1,420.2 601.6,419.6 599.1,418.9 596.6,418.2 594.1,417.6 591.8,417.0 589.4,416.3 587.1,415.7 584.9,415.1 582.2,414.4 579.6,413.6 577.1,412.9 574.5,412.2 572.1,411.4 569.6,410.7 567.2,409.9 564.8,409.2 562.4,408.5 560.1,407.8 557.7,407.1 555.4,406.3 553.2,405.6 550.9,405.0 548.6,404.3 546.4,403.6 543.9,402.8 541.4,402.1 539.1,401.3 536.8,400.5 534.5,399.8 532.2,399.1 529.9,398.3 527.6,397.6 525.2,396.9 522.8,396.3 520.3,395.6 517.6,395.0 515.4,394.5 513.1,394.0 510.7,393.5 508.3,393.0 505.9,392.5 503.4,392.1 500.8,391.6 498.2,391.1 495.6,390.7 493.0,390.3 490.4,389.9 487.8,389.5 485.2,389.2 482.6,388.8 480.0,388.6 477.4,388.3 474.9,388.1 472.4,387.9 470.0,387.8 467.3,387.7 464.5,387.7 461.8,387.7 459.2,387.7 456.5,387.8 453.9,387.9 451.3,388.1 448.6,388.3 446.0,388.5 443.4,388.7 440.8,389.0 438.2,389.3 435.5,389.6 432.9,390.0 430.2,390.3 427.7,390.6 425.2,391.0 422.6,391.3 420.0,391.7 417.4,392.1 414.8,392.5 412.2,392.9 409.6,393.4 407.0,393.9 404.4,394.4 401.9,394.9 399.4,395.5 396.9,396.1 394.6,396.7 392.2,397.4 390.0,398.1 387.8,398.8 385.2,399.8 382.6,400.9 380.1,402.0 377.7,403.2 375.3,404.5 373.1,405.7 370.8,407.0 368.7,408.4 366.5,409.7 364.4,411.1 362.4,412.4 360.0,414.0 357.7,415.7 355.4,417.5 353.2,419.2 351.1,421.0 349.1,422.7 347.2,424.3 345.4,425.9 343.2,428.1 341.4,430.1 339.5,432.1 337.1,434.0 335.3,435.1 333.2,436.1 331.0,437.0 328.6,437.9 326.1,438.8 323.5,439.7 320.9,440.6 318.3,441.5 315.8,442.4 313.4,443.4 311.0,444.4 308.6,445.3 306.1,446.2 303.6,447.1 301.2,448.0 298.7,449.0 296.4,450.1 294.1,451.2 291.8,452.6 289.7,454.1 287.9,455.6 286.1,457.3 284.4,459.0 282.8,460.9 281.2,462.9 279.7,464.9 278.2,467.0 276.7,469.1 275.2,471.3 273.7,473.5 272.2,475.6 270.7,477.8 269.3,479.9 267.9,482.0 266.4,484.3 265.0,486.5 263.6,488.9 262.2,491.2 260.9,493.6 259.5,495.9 258.1,498.2 256.8,500.5 255.5,502.6 254.2,504.8 252.9,506.8 251.7,508.7 250.2,511.2 248.7,513.7 247.3,516.2 246.0,518.6 244.6,520.8 243.1,522.7 241.5,524.2 239.8,525.3 237.1,525.7 234.2,525.2 231.1,524.4 228.2,523.8 225.6,524.1 223.3,525.4 221.2,527.4 219.3,529.8 217.5,532.4 216.0,535.0 214.8,537.8 213.7,541.4 212.8,545.0 212.1,548.3 211.4,550.6Z" fill="none" stroke="#10c488" stroke-width="4.2" stroke-linejoin="round"/>
<path d="M210.9,534.8 210.7,534.4 210.5,533.3 210.4,531.7 210.4,529.5 210.4,527.0 210.4,524.0 210.5,520.8 210.6,517.4 210.7,513.8 210.8,510.3 210.9,506.7 211.0,503.3 211.0,500.0 211.0,497.9 211.0,495.8 211.0,493.6 211.0,491.4 211.0,489.1 211.0,486.8 211.0,484.5 211.0,482.1 211.0,479.7 211.0,477.3 211.0,474.8 211.0,472.3 211.0,469.8 211.0,467.3 211.0,464.7 211.0,462.1 211.0,459.5 211.0,456.9 211.0,454.3 211.0,451.6 211.0,448.9 211.0,446.3 211.0,443.6 211.0,440.9 211.0,438.2 211.0,435.4 211.0,432.7 211.0,430.0 211.0,427.7 211.0,425.4 211.0,423.0 211.0,420.6 211.0,418.2 211.0,415.8 211.0,413.3 211.0,410.8 211.0,408.3 211.0,405.7 211.0,403.2 211.0,400.6 211.1,398.0 211.1,395.4 211.1,392.8 211.1,390.2 211.1,387.6 211.1,385.0 211.1,382.3 211.1,379.7 211.1,377.1 211.1,374.5 211.1,371.9 211.1,369.3 211.1,366.7 211.2,364.1 211.2,361.5 211.2,358.9 211.2,356.4 211.2,353.9 211.2,351.3 211.3,348.9 211.3,346.4 211.3,344.0 211.3,341.6 211.4,339.2 211.4,336.8 211.4,334.5 211.5,332.2 211.5,330.0 211.5,327.2 211.6,324.4 211.6,321.6 211.7,318.8 211.7,316.1 211.8,313.4 211.9,310.7 211.9,308.0 212.0,305.4 212.0,302.8 212.1,300.2 212.2,297.6 212.2,295.1 212.3,292.6 212.4,290.1 212.5,287.6 212.5,285.1 212.6,282.6 212.7,280.2 212.8,277.8 212.9,275.4 213.0,273.0 213.1,270.7 213.2,268.3 213.3,266.0 213.4,263.2 213.6,260.3 213.7,257.4 213.8,254.6 213.9,251.7 214.0,248.9 214.1,246.1 214.3,243.3 214.4,240.6 214.6,237.9 214.8,235.4 215.0,232.9 215.2,230.5 215.4,228.2 215.7,226.0 216.0,223.9 216.3,222.0 217.0,218.2 217.9,214.4 218.8,211.1 219.7,208.7 220.7,207.8 221.6,208.6 222.5,210.8 223.5,213.8 224.5,217.4 225.6,221.0 226.7,224.2 227.6,226.5 228.5,228.9 229.4,231.4 230.3,234.0 231.3,236.5 232.3,239.0 233.3,241.2 234.4,243.3 235.5,245.0 237.3,247.1 239.1,248.7 241.1,250.1 243.1,251.6 245.5,253.2 247.9,254.6 250.5,256.1 253.0,258.0 254.7,259.6 256.5,261.3 258.2,263.2 260.0,265.1 261.7,267.2 263.4,269.2 265.0,271.2 266.5,273.3 267.9,275.7 269.2,278.1 270.5,280.5 271.9,282.6 273.5,284.5 275.4,285.9 277.8,286.8 280.5,287.3 283.5,287.5 286.6,287.5 289.5,287.3 292.2,287.1 294.4,287.1 297.2,287.0 300.0,287.0 302.0,287.0 304.2,287.1 306.8,287.2 309.5,287.3 312.3,287.4 315.1,287.6 317.9,287.9 320.5,288.3 323.1,288.7 325.7,289.2 328.4,289.7 331.0,290.2 333.6,290.9 336.1,291.7 338.5,292.6 340.7,293.7 342.9,295.1 344.8,296.7 346.7,298.4 348.4,300.3 350.2,302.2 352.1,304.1 354.2,305.9 356.0,307.4 357.9,309.0 359.9,310.6 361.9,312.2 364.0,313.8 366.1,315.3 368.2,316.9 370.4,318.3 372.5,319.7 374.6,321.0 377.1,322.4 379.6,323.6 382.0,324.8 384.6,325.9 387.1,327.0 389.7,328.0 392.3,329.0 395.0,330.0 397.4,330.9 399.8,331.7 402.2,332.5 404.6,333.3 407.1,334.1 409.6,334.8 412.2,335.5 414.8,336.2 417.4,336.9 420.0,337.5 422.5,338.0 425.0,338.6 427.5,339.0 430.1,339.5 432.7,339.9 435.3,340.3 438.0,340.7 440.6,341.1 443.2,341.5 445.8,341.8 448.4,342.2 451.0,342.5 453.6,342.9 456.2,343.2 458.8,343.6 461.3,343.9 463.8,344.2 466.4,344.5 468.9,344.8 471.6,345.0 474.3,345.2 477.1,345.4 480.0,345.5 482.2,345.6 484.5,345.6 486.9,345.6 489.2,345.5 491.7,345.5 494.1,345.4 496.6,345.3 499.1,345.2 501.7,345.0 504.3,344.9 506.9,344.7 509.5,344.6 512.1,344.4 514.8,344.2 517.4,344.1 520.1,343.9 522.7,343.8 525.4,343.6 528.0,343.5 530.5,343.4 533.1,343.2 535.8,343.1 538.6,343.0 541.4,342.8 544.2,342.7 547.0,342.5 549.9,342.4 552.8,342.2 555.6,342.0 558.5,341.9 561.3,341.7 564.1,341.6 566.8,341.4 569.4,341.3 572.0,341.1 574.4,341.0 576.8,340.9 579.1,340.8 581.2,340.7 583.2,340.6 585.0,340.5 588.0,340.4 590.4,340.4 592.6,340.4 594.8,340.3 597.2,340.2 600.0,340.0 602.0,339.8 604.1,339.6 606.4,339.4 608.8,339.1 611.3,338.8 613.9,338.5 616.6,338.2 619.4,337.8 622.1,337.4 624.9,337.0 627.8,336.5 630.6,336.0 633.4,335.5 636.1,334.9 638.8,334.3 641.5,333.7 644.0,333.0 646.5,332.3 649.1,331.5 651.6,330.6 654.2,329.7 656.7,328.7 659.3,327.7 661.9,326.7 664.4,325.6 666.9,324.6 669.4,323.5 671.8,322.4 674.2,321.3 676.5,320.2 678.7,319.1 680.9,318.0 683.0,317.0 685.0,316.0 687.6,314.7 690.0,313.3 692.3,312.0 694.5,310.7 696.7,309.4 698.7,308.1 700.8,306.8 702.9,305.4 705.0,304.0 707.1,302.5 709.0,300.8 710.9,299.0 712.7,297.3 714.6,295.5 716.6,293.9 718.7,292.5 720.9,291.3 723.4,290.5 725.5,290.1 727.6,290.0 729.9,290.0 732.3,290.2 734.8,290.6 737.3,291.1 739.9,291.6 742.5,292.2 745.2,292.9 747.9,293.6 750.7,294.3 753.4,294.9 756.1,295.5 758.9,296.0 761.6,296.4 764.0,296.7 766.5,297.0 769.1,297.2 771.7,297.5 774.3,297.8 777.0,298.0 779.6,298.3 782.3,298.5 785.0,298.7 787.7,299.0 790.4,299.2 793.0,299.4 795.6,299.6 798.2,299.8 800.7,299.9 803.1,300.1 805.5,300.2 807.8,300.4 810.0,300.5 813.0,300.6 816.1,300.6 819.1,300.6 822.0,300.6 824.9,300.5 827.6,300.5 830.1,300.5 832.3,300.6 834.3,300.7 836.0,301.0 838.7,301.7 840.5,303.0 841.4,305.1 841.8,307.9 841.9,311.3 842.0,315.0 842.1,317.0 842.2,319.1 842.2,321.4 842.3,323.9 842.3,326.5 842.3,329.1 842.3,331.9 842.2,334.6 842.2,337.4 842.1,340.1 842.0,342.7 841.8,345.3 841.7,347.7 841.5,350.0 841.2,353.1 840.9,356.1 840.6,359.0 840.2,361.9 839.7,364.7 839.2,367.3 838.7,369.7 838.0,372.0 837.0,374.9 836.0,377.6 834.7,379.9 833.0,382.0 831.3,383.5 829.3,384.8 827.1,385.9 824.7,386.9 822.0,388.0 820.0,388.8 817.8,389.5 815.4,390.3 812.8,391.0 810.1,391.7 807.4,392.4 804.6,393.1 801.8,393.8 799.0,394.4 796.2,395.0 793.6,395.5 791.0,396.0 788.3,396.4 785.7,396.8 783.1,397.0 780.6,397.2 778.1,397.3 775.5,397.5 772.9,397.7 770.2,398.0 767.4,398.5 764.5,399.0 762.3,399.5 760.1,400.0 757.7,400.7 755.4,401.3 752.9,402.0 750.4,402.8 747.9,403.6 745.4,404.4 742.8,405.3 740.2,406.1 737.6,407.0 735.0,407.9 732.4,408.8 729.8,409.6 727.3,410.5 724.8,411.3 722.3,412.2 719.9,413.0 717.5,413.7 714.8,414.6 712.2,415.5 709.6,416.4 707.0,417.4 704.4,418.4 701.9,419.4 699.4,420.4 696.8,421.3 694.3,422.2 691.8,423.0 689.3,423.7 686.8,424.3 684.3,424.9 681.8,425.3 679.3,425.5 676.8,425.6 674.3,425.5 671.8,425.4 669.3,425.1 666.9,424.7 664.4,424.2 662.0,423.7 659.5,423.1 657.0,422.5 654.5,421.9 651.9,421.3 649.3,420.7 646.7,420.1 644.0,419.6 641.7,419.2 639.4,418.8 637.0,418.3 634.5,417.9 632.1,417.4 629.6,417.0 627.0,416.5 624.5,416.0 621.9,415.5 619.4,415.1 616.8,414.6 614.2,414.1 611.7,413.6 609.2,413.1 606.6,412.6 604.1,412.2 601.7,411.7 599.2,411.2 596.8,410.8 594.5,410.3 591.8,409.8 589.1,409.3 586.5,408.8 583.9,408.3 581.3,407.8 578.7,407.4 576.2,406.9 573.7,406.4 571.1,405.9 568.6,405.4 566.1,404.9 563.6,404.4 561.1,403.9 558.5,403.3 556.0,402.7 553.4,402.1 550.9,401.4 548.4,400.7 545.9,400.0 543.3,399.2 540.8,398.4 538.3,397.7 535.8,396.9 533.3,396.1 530.7,395.4 528.2,394.7 525.6,394.0 523.0,393.3 520.3,392.7 517.6,392.1 515.2,391.6 512.8,391.2 510.4,390.7 508.0,390.3 505.5,389.9 503.0,389.5 500.5,389.1 498.0,388.7 495.5,388.3 492.9,388.0 490.4,387.7 487.8,387.4 485.3,387.1 482.7,386.9 480.2,386.6 477.6,386.5 475.1,386.3 472.5,386.2 470.0,386.1 467.5,386.0 464.9,386.0 462.4,386.0 459.8,386.1 457.2,386.2 454.7,386.3 452.1,386.4 449.5,386.5 446.9,386.7 444.4,386.9 441.8,387.1 439.2,387.4 436.7,387.6 434.2,387.9 431.6,388.2 429.1,388.5 426.6,388.8 424.2,389.2 421.7,389.5 419.1,389.9 416.5,390.3 413.9,390.6 411.2,391.0 408.6,391.4 406.0,391.9 403.4,392.3 400.8,392.8 398.2,393.3 395.7,393.8 393.2,394.4 390.7,395.0 388.3,395.7 386.0,396.4 383.7,397.1 381.4,397.9 379.3,398.8 376.8,399.9 374.5,401.2 372.2,402.5 369.9,403.9 367.8,405.4 365.7,406.9 363.6,408.4 361.6,410.0 359.6,411.5 357.7,413.0 355.8,414.4 353.9,415.8 351.6,417.5 349.5,419.3 347.5,421.0 345.5,422.8 343.5,424.4 341.5,426.0 339.3,427.3 337.0,428.5 334.6,429.4 332.1,430.0 329.6,430.6 326.9,431.0 324.2,431.3 321.5,431.5 318.8,431.8 316.1,432.1 313.4,432.5 310.7,432.9 308.1,433.1 305.4,433.3 302.6,433.5 300.0,433.8 297.3,434.2 294.7,434.7 292.2,435.5 289.7,436.5 287.6,437.7 285.4,439.0 283.4,440.5 281.4,442.1 279.4,443.9 277.4,445.8 275.5,447.8 273.7,449.8 271.8,452.0 270.0,454.2 268.3,456.4 266.9,458.3 265.6,460.4 264.3,462.7 263.1,465.1 261.9,467.5 260.8,470.1 259.6,472.6 258.5,475.2 257.4,477.7 256.2,480.2 255.1,482.6 254.0,484.9 252.9,487.0 251.7,488.9 250.5,490.6 249.3,492.0 247.0,494.2 244.7,496.0 242.3,497.3 239.9,498.4 237.5,499.2 234.5,499.4 231.4,498.9 228.3,498.6 225.6,499.2 223.9,500.5 222.3,502.4 220.8,504.6 219.5,507.1 218.2,509.8 217.1,512.4 216.0,515.0 215.1,517.6 214.3,520.7 213.5,524.0 212.8,527.2 212.3,530.2 211.7,532.6 211.3,534.2Z" fill="none" stroke="#a2da40" stroke-width="4.2" stroke-linejoin="round"/>
<path d="M210.9,518.1 210.7,517.8 210.5,516.8 210.4,515.4 210.4,513.5 210.3,511.2 210.4,508.5 210.4,505.6 210.5,502.5 210.6,499.2 210.7,495.9 210.8,492.5 210.9,489.2 210.9,485.9 211.0,482.8 211.0,480.0 211.0,477.7 211.0,475.3 211.0,473.0 211.0,470.6 211.0,468.3 211.0,465.9 211.0,463.5 211.0,461.1 211.0,458.7 211.0,456.2 211.0,453.8 211.0,451.3 211.0,448.7 211.0,446.2 211.0,443.6 211.0,441.0 211.0,438.3 211.0,435.6 211.0,432.8 211.0,430.0 211.0,427.8 211.0,425.6 211.0,423.3 211.0,420.9 211.0,418.6 211.0,416.2 211.0,413.7 211.0,411.2 211.0,408.7 211.0,406.2 211.0,403.6 211.1,401.1 211.1,398.5 211.1,395.9 211.1,393.2 211.1,390.6 211.1,388.0 211.1,385.3 211.1,382.7 211.1,380.1 211.1,377.4 211.1,374.8 211.2,372.2 211.2,369.6 211.2,367.0 211.2,364.5 211.3,361.9 211.3,359.4 211.3,356.9 211.3,354.5 211.4,352.0 211.4,349.7 211.5,347.3 211.5,345.0 211.6,342.3 211.6,339.6 211.7,336.9 211.7,334.3 211.8,331.6 211.9,329.0 211.9,326.4 212.0,323.8 212.1,321.2 212.2,318.7 212.2,316.1 212.3,313.6 212.4,311.1 212.5,308.7 212.6,306.2 212.7,303.8 212.8,301.3 212.9,299.0 213.0,296.6 213.1,294.2 213.2,291.9 213.3,289.6 213.4,287.3 213.5,285.0 213.6,282.2 213.8,279.4 213.9,276.5 214.0,273.7 214.1,270.9 214.2,268.1 214.4,265.4 214.5,262.7 214.6,260.0 214.8,257.5 215.0,255.0 215.2,252.5 215.4,250.2 215.7,248.0 216.0,246.0 216.3,244.0 217.0,240.2 217.8,236.4 218.7,233.0 219.7,230.6 220.7,229.7 221.6,230.4 222.6,232.3 223.6,235.0 224.6,238.1 225.7,241.2 226.7,244.0 227.6,246.3 228.4,248.8 229.3,251.4 230.1,253.9 231.0,256.3 232.1,258.4 233.3,260.3 235.2,262.3 237.4,263.9 239.7,265.3 242.0,266.9 243.9,268.4 246.0,269.9 248.1,271.5 250.2,273.2 252.2,274.9 254.0,276.7 255.7,278.8 257.2,281.1 258.6,283.4 260.1,285.8 262.0,288.0 263.6,289.6 265.4,291.3 267.3,293.1 269.3,294.8 271.4,296.4 273.5,298.0 275.7,299.4 278.0,300.5 280.2,301.4 282.7,302.0 285.2,302.3 287.8,302.4 290.5,302.3 293.2,302.1 296.0,301.8 298.7,301.6 301.5,301.4 304.0,301.2 306.6,301.0 309.3,300.6 312.0,300.2 314.7,299.8 317.4,299.5 320.0,299.2 322.5,299.1 324.9,299.0 327.1,299.2 330.1,299.7 332.9,300.5 335.6,301.4 338.1,302.6 340.7,303.9 343.0,305.3 345.2,306.8 347.4,308.6 349.5,310.4 351.8,312.2 354.2,314.1 356.0,315.5 357.9,317.0 359.9,318.6 361.8,320.2 363.9,321.8 365.9,323.4 368.0,325.0 370.2,326.4 372.4,327.8 374.6,329.0 377.0,330.1 379.4,331.1 382.0,332.1 384.6,332.9 387.2,333.7 389.8,334.4 392.4,335.1 395.0,335.8 397.5,336.4 400.0,337.0 402.6,337.6 405.0,338.2 407.5,338.7 409.9,339.2 412.3,339.6 414.7,340.1 417.3,340.5 420.0,341.0 422.3,341.4 424.8,341.8 427.3,342.2 429.9,342.6 432.5,343.1 435.1,343.5 437.8,343.9 440.5,344.2 443.2,344.6 445.8,344.9 448.4,345.2 451.0,345.5 453.6,345.8 456.2,346.0 458.8,346.2 461.3,346.4 463.8,346.5 466.4,346.7 469.0,346.8 471.6,346.9 474.3,346.9 477.1,347.0 480.0,347.0 482.2,347.0 484.5,347.0 486.9,346.9 489.2,346.9 491.7,346.8 494.1,346.7 496.6,346.6 499.2,346.5 501.7,346.4 504.3,346.3 506.9,346.1 509.5,346.0 512.1,345.8 514.8,345.7 517.4,345.5 520.1,345.4 522.7,345.3 525.4,345.1 528.0,345.0 530.5,344.9 533.1,344.7 535.8,344.6 538.6,344.5 541.4,344.3 544.2,344.1 547.0,344.0 549.9,343.8 552.8,343.6 555.6,343.5 558.5,343.3 561.3,343.1 564.1,343.0 566.8,342.8 569.4,342.7 572.0,342.6 574.4,342.4 576.8,342.3 579.1,342.2 581.2,342.1 583.2,342.1 585.0,342.0 588.0,342.0 590.4,342.0 592.6,342.0 594.8,342.1 597.2,342.1 600.0,342.0 602.0,341.9 604.1,341.9 606.3,341.8 608.7,341.8 611.2,341.7 613.7,341.7 616.3,341.6 619.0,341.5 621.7,341.4 624.5,341.2 627.3,341.0 630.1,340.8 632.9,340.5 635.8,340.2 638.5,339.9 641.3,339.5 644.0,339.0 646.3,338.5 648.7,338.0 651.2,337.5 653.6,336.9 656.1,336.3 658.6,335.6 661.2,334.9 663.7,334.2 666.3,333.5 668.8,332.7 671.3,331.9 673.8,331.1 676.3,330.3 678.8,329.4 681.3,328.6 683.7,327.7 686.0,326.8 688.4,326.0 690.6,325.1 692.8,324.2 694.9,323.4 697.0,322.5 699.6,321.3 702.0,320.0 704.3,318.7 706.6,317.2 708.7,315.8 710.9,314.4 713.0,312.9 715.1,311.6 717.2,310.3 719.3,309.2 721.6,308.2 723.9,307.3 726.3,306.7 728.6,306.3 731.0,306.0 733.4,305.9 735.9,306.0 738.4,306.1 740.9,306.3 743.5,306.6 746.0,307.0 748.6,307.4 751.3,307.8 753.9,308.2 756.5,308.6 759.2,309.0 761.8,309.3 764.5,309.6 766.9,309.8 769.5,310.0 772.0,310.3 774.6,310.5 777.2,310.8 779.8,311.1 782.5,311.3 785.1,311.6 787.8,311.9 790.4,312.2 793.0,312.4 795.6,312.7 798.2,312.9 800.7,313.2 803.1,313.4 805.5,313.6 807.8,313.8 810.0,314.0 813.0,314.2 816.0,314.3 819.0,314.4 822.0,314.5 824.8,314.6 827.5,314.7 830.0,314.8 832.3,314.9 834.3,315.2 836.0,315.5 838.7,316.2 840.5,317.5 841.3,319.4 841.7,321.9 841.8,324.8 842.0,328.0 842.1,330.2 842.3,332.7 842.4,335.4 842.4,338.2 842.5,341.1 842.5,344.0 842.4,346.9 842.3,349.8 842.2,352.5 842.0,355.0 841.7,357.8 841.4,360.6 840.9,363.3 840.5,366.0 839.9,368.5 839.3,370.8 838.5,373.0 837.4,375.6 836.2,378.0 834.7,380.1 833.0,382.0 831.2,383.5 829.3,384.8 827.1,385.9 824.7,387.0 822.0,388.0 820.0,388.7 817.7,389.3 815.3,389.9 812.7,390.5 810.0,391.1 807.2,391.6 804.3,392.1 801.5,392.6 798.7,393.0 796.0,393.4 793.4,393.7 791.0,394.0 788.3,394.2 785.8,394.3 783.3,394.3 780.9,394.2 778.5,394.1 776.0,394.1 773.3,394.3 770.4,394.6 768.4,394.9 766.2,395.3 764.0,395.8 761.7,396.3 759.3,396.8 756.8,397.4 754.3,398.1 751.8,398.8 749.2,399.5 746.6,400.2 743.9,400.9 741.3,401.7 738.7,402.4 736.0,403.1 733.4,403.8 730.9,404.5 728.3,405.2 725.8,405.8 723.4,406.4 720.8,407.0 718.1,407.7 715.5,408.4 712.9,409.1 710.3,409.8 707.7,410.5 705.2,411.2 702.6,411.9 700.1,412.5 697.5,413.1 695.0,413.6 692.4,414.1 689.9,414.5 687.4,414.8 684.8,415.1 682.3,415.2 679.7,415.2 677.2,415.1 674.6,414.9 672.1,414.6 669.6,414.2 667.1,413.8 664.6,413.3 662.1,412.8 659.6,412.3 657.1,411.7 654.5,411.2 652.0,410.7 649.3,410.2 646.7,409.7 644.0,409.3 641.5,409.0 639.0,408.7 636.5,408.4 633.9,408.1 631.3,407.8 628.6,407.5 626.0,407.2 623.3,406.9 620.6,406.6 617.9,406.4 615.2,406.1 612.5,405.8 609.9,405.5 607.2,405.2 604.6,404.9 602.0,404.6 599.5,404.3 597.0,403.9 594.5,403.6 591.8,403.2 589.1,402.8 586.5,402.4 583.9,402.0 581.3,401.5 578.7,401.1 576.2,400.6 573.7,400.2 571.1,399.7 568.6,399.3 566.1,398.8 563.6,398.3 561.1,397.9 558.6,397.4 556.0,396.9 553.4,396.4 550.9,395.9 548.4,395.4 545.9,394.8 543.4,394.3 540.8,393.7 538.3,393.2 535.8,392.6 533.3,392.1 530.7,391.6 528.2,391.1 525.6,390.6 522.9,390.1 520.3,389.6 517.6,389.2 515.2,388.8 512.9,388.5 510.5,388.1 508.1,387.8 505.7,387.4 503.2,387.1 500.8,386.8 498.3,386.5 495.9,386.2 493.4,385.9 490.9,385.6 488.3,385.4 485.8,385.2 483.2,385.0 480.6,384.8 478.0,384.6 475.4,384.5 472.7,384.4 470.0,384.4 467.7,384.4 465.3,384.4 462.8,384.4 460.3,384.5 457.8,384.5 455.2,384.6 452.6,384.7 450.0,384.8 447.3,385.0 444.6,385.1 442.0,385.3 439.3,385.5 436.6,385.7 434.0,385.9 431.3,386.1 428.7,386.4 426.1,386.6 423.5,386.9 421.0,387.2 418.5,387.5 416.0,387.8 413.6,388.1 411.3,388.4 409.0,388.8 406.8,389.1 404.7,389.5 401.9,390.0 399.1,390.5 396.5,391.0 393.9,391.6 391.3,392.2 388.8,392.8 386.4,393.4 384.0,394.0 381.7,394.7 379.4,395.4 377.2,396.2 375.0,397.0 372.9,397.9 370.8,398.8 368.2,400.1 365.8,401.5 363.5,403.1 361.2,404.7 359.0,406.3 356.9,408.0 354.8,409.5 352.7,411.0 350.5,412.4 348.0,413.9 345.5,415.4 343.0,416.9 340.6,418.3 338.2,419.5 335.8,420.4 333.6,421.0 330.9,421.1 328.5,420.7 325.9,420.1 322.9,419.7 320.8,419.6 318.5,419.5 316.0,419.3 313.4,419.2 310.6,419.2 307.8,419.2 305.0,419.2 302.2,419.4 299.5,419.7 296.9,420.2 294.4,420.8 292.1,421.6 289.7,422.4 287.4,423.4 285.2,424.5 282.9,425.7 280.8,427.0 278.6,428.4 276.5,429.9 274.5,431.5 272.6,433.3 270.7,435.1 269.2,436.8 267.7,438.8 266.3,440.9 264.9,443.2 263.6,445.5 262.3,448.0 261.1,450.5 259.9,453.0 258.7,455.5 257.6,457.9 256.4,460.3 255.3,462.6 254.1,464.7 252.9,466.6 251.7,468.3 249.7,470.9 247.8,473.2 245.9,475.4 244.0,477.3 242.0,478.9 239.8,480.2 237.1,481.0 234.1,481.2 231.0,481.2 228.1,481.5 225.6,482.5 223.8,484.0 222.2,485.8 220.8,488.0 219.4,490.4 218.2,492.9 217.1,495.5 216.0,498.0 215.1,500.6 214.2,503.7 213.5,507.1 212.8,510.4 212.3,513.4 211.7,515.9 211.3,517.5Z" fill="none" stroke="#dca236" stroke-width="4.2" stroke-linejoin="round"/>
<path d="M211.8,496.8 211.6,496.3 211.4,495.0 211.3,492.9 211.2,490.3 211.1,487.2 211.1,483.9 211.1,480.3 211.1,476.7 211.1,473.3 211.0,470.0 211.0,467.9 210.9,465.6 210.9,463.4 210.8,461.1 210.8,458.7 210.7,456.3 210.7,453.8 210.7,451.3 210.6,448.8 210.6,446.3 210.5,443.7 210.5,441.1 210.5,438.5 210.4,435.8 210.4,433.2 210.4,430.5 210.4,427.9 210.3,425.3 210.3,422.6 210.3,420.0 210.3,417.6 210.3,415.1 210.3,412.7 210.2,410.2 210.2,407.6 210.2,405.1 210.2,402.5 210.2,399.9 210.2,397.3 210.2,394.7 210.2,392.1 210.2,389.5 210.2,386.9 210.2,384.3 210.2,381.7 210.2,379.2 210.2,376.7 210.2,374.2 210.2,371.7 210.2,369.3 210.2,366.9 210.3,364.5 210.3,362.2 210.3,360.0 210.3,357.2 210.4,354.5 210.4,351.8 210.4,349.1 210.5,346.5 210.5,344.0 210.6,341.5 210.6,339.0 210.7,336.5 210.7,334.1 210.8,331.6 210.9,329.2 211.0,326.8 211.1,324.4 211.2,322.0 211.3,319.3 211.5,316.6 211.7,314.0 211.8,311.4 212.0,308.8 212.2,306.2 212.4,303.7 212.6,301.1 212.8,298.6 213.1,296.1 213.3,293.5 213.5,291.0 213.7,288.3 213.9,285.5 214.1,282.6 214.3,279.7 214.4,276.9 214.6,274.1 214.9,271.4 215.1,268.8 215.5,266.3 215.8,264.1 216.3,262.0 217.2,258.5 218.3,255.2 219.4,252.7 220.7,251.6 222.1,252.4 223.7,254.6 225.3,257.5 226.7,260.3 227.7,262.4 228.5,264.7 229.2,267.1 230.0,269.5 231.0,272.0 232.2,274.5 233.4,276.6 234.8,278.8 236.3,280.9 237.9,283.1 239.7,285.4 241.4,287.6 243.3,289.8 245.1,292.0 247.0,294.2 248.6,296.1 250.2,298.0 251.9,300.0 253.7,302.1 255.5,304.1 257.3,306.1 259.1,308.0 260.9,309.9 262.8,311.6 264.6,313.1 266.5,314.5 268.3,315.6 271.0,316.9 273.8,317.8 276.6,318.4 279.4,318.8 282.2,319.0 284.9,319.2 287.4,319.3 289.9,319.2 292.4,319.1 294.8,318.8 297.4,318.5 300.0,318.1 302.4,317.7 304.9,317.3 307.5,316.8 310.1,316.3 312.7,315.8 315.3,315.2 317.9,314.6 320.3,314.1 323.2,313.3 326.0,312.3 328.8,311.4 331.5,310.5 334.1,310.0 336.6,310.0 339.5,310.7 342.2,312.0 344.8,313.6 347.5,315.4 349.7,317.0 351.8,318.7 354.0,320.6 356.2,322.6 358.5,324.5 361.0,326.3 363.0,327.6 365.2,329.0 367.3,330.3 369.6,331.6 371.9,332.9 374.3,334.1 376.6,335.2 379.0,336.2 381.4,337.1 384.0,337.9 386.7,338.5 389.5,338.9 392.3,339.3 395.0,339.6 397.7,339.9 400.4,340.2 403.0,340.5 406.0,340.9 408.9,341.2 411.7,341.5 414.5,341.8 417.3,342.1 420.0,342.5 422.5,343.0 424.8,343.5 427.2,344.0 429.6,344.5 432.1,345.0 435.0,345.5 437.0,345.8 439.1,346.0 441.4,346.3 443.7,346.5 446.0,346.7 448.5,346.9 451.0,347.1 453.6,347.3 456.2,347.5 458.9,347.6 461.6,347.8 464.4,347.9 467.2,347.9 470.0,348.0 472.2,348.0 474.5,348.0 476.8,348.0 479.2,347.9 481.6,347.9 484.1,347.8 486.6,347.7 489.1,347.6 491.7,347.4 494.2,347.3 496.8,347.2 499.4,347.0 502.0,346.9 504.7,346.7 507.3,346.5 509.9,346.4 512.5,346.2 515.2,346.1 517.8,346.0 520.4,345.8 522.9,345.7 525.5,345.6 528.0,345.5 530.6,345.4 533.2,345.3 535.8,345.2 538.4,345.2 541.1,345.1 543.7,345.0 546.3,344.9 548.9,344.8 551.5,344.8 554.1,344.7 556.7,344.6 559.3,344.6 561.9,344.5 564.5,344.4 567.1,344.4 569.7,344.3 572.3,344.3 574.8,344.2 577.4,344.1 579.9,344.1 582.5,344.0 585.0,344.0 587.6,344.0 590.3,343.9 593.0,343.9 595.7,343.9 598.4,343.9 601.2,344.0 603.9,344.0 606.6,344.0 609.3,344.0 612.0,344.0 614.6,344.1 617.2,344.1 619.8,344.1 622.3,344.0 624.8,344.0 627.2,343.9 629.5,343.9 631.7,343.8 633.9,343.7 636.0,343.5 638.9,343.2 641.6,342.9 644.1,342.6 646.5,342.3 648.8,341.9 651.1,341.5 653.5,341.0 656.1,340.5 658.8,340.0 661.1,339.5 663.4,339.1 665.9,338.5 668.4,338.0 671.0,337.4 673.6,336.8 676.2,336.2 678.8,335.6 681.5,334.9 684.2,334.3 686.8,333.6 689.4,333.0 692.0,332.3 694.5,331.7 697.0,331.0 699.6,330.3 702.1,329.5 704.5,328.7 706.9,327.8 709.3,326.9 711.7,326.1 714.1,325.2 716.5,324.4 719.0,323.7 721.4,323.0 724.0,322.3 726.6,321.8 729.3,321.4 731.7,321.1 734.1,320.9 736.7,320.8 739.3,320.7 741.9,320.7 744.5,320.7 747.2,320.8 750.0,320.9 752.7,321.1 755.4,321.2 758.2,321.4 760.9,321.6 763.5,321.8 766.2,322.1 768.8,322.3 771.4,322.5 773.9,322.6 776.3,322.8 779.1,323.0 781.8,323.2 784.6,323.5 787.2,323.7 789.9,324.0 792.5,324.3 795.1,324.6 797.6,324.9 800.1,325.2 802.6,325.4 805.1,325.7 807.6,325.8 810.0,326.0 812.8,326.1 815.8,326.1 818.7,326.1 821.7,326.0 824.6,326.0 827.3,325.9 829.9,325.9 832.2,326.0 834.3,326.1 836.0,326.3 838.7,326.9 840.5,328.0 841.5,330.6 842.0,334.0 842.4,336.6 842.7,339.6 842.9,342.7 843.0,346.0 843.1,348.5 843.1,351.2 843.2,353.9 843.2,356.8 843.1,359.6 842.8,362.4 842.5,365.0 842.0,367.9 841.4,370.7 840.7,373.6 839.8,376.3 838.8,378.8 837.5,381.0 836.0,383.0 834.3,384.7 832.4,386.2 830.1,387.5 827.5,388.8 825.8,389.4 823.8,389.9 821.8,390.4 819.5,390.8 817.2,391.2 814.7,391.5 812.2,391.7 809.5,391.9 806.8,392.1 804.1,392.3 801.3,392.5 798.4,392.7 795.6,393.0 792.8,393.2 790.0,393.5 787.7,393.7 785.4,394.0 783.0,394.2 780.6,394.5 778.2,394.7 775.7,395.0 773.2,395.2 770.7,395.5 768.1,395.7 765.5,396.0 762.9,396.2 760.3,396.4 757.7,396.7 755.1,396.9 752.5,397.2 749.9,397.4 747.3,397.6 744.7,397.9 742.2,398.1 739.6,398.3 737.1,398.6 734.6,398.8 732.2,399.0 729.6,399.2 727.0,399.5 724.5,399.8 721.9,400.1 719.3,400.4 716.8,400.7 714.2,401.0 711.7,401.3 709.1,401.6 706.6,401.9 704.1,402.1 701.6,402.4 699.1,402.6 696.7,402.8 694.2,403.0 691.8,403.2 689.4,403.3 687.0,403.4 684.6,403.4 682.3,403.4 679.6,403.3 677.0,403.2 674.5,403.0 672.0,402.8 669.6,402.5 667.1,402.2 664.7,401.9 662.3,401.5 659.9,401.1 657.4,400.8 654.9,400.4 652.3,400.0 649.6,399.6 646.9,399.3 644.0,399.0 641.8,398.8 639.5,398.6 637.1,398.3 634.7,398.1 632.2,397.9 629.7,397.7 627.1,397.5 624.5,397.2 621.8,397.0 619.2,396.8 616.5,396.6 613.7,396.4 611.0,396.1 608.3,395.9 605.6,395.7 602.9,395.5 600.2,395.3 597.5,395.0 594.8,394.8 592.2,394.6 589.6,394.4 587.1,394.1 584.6,393.9 582.2,393.7 579.8,393.5 577.5,393.2 575.3,393.0 572.4,392.7 569.6,392.4 566.9,392.0 564.2,391.7 561.6,391.4 559.1,391.1 556.6,390.7 554.1,390.4 551.7,390.1 549.2,389.7 546.8,389.4 544.3,389.1 541.8,388.8 539.3,388.5 536.8,388.2 534.2,387.9 531.7,387.6 529.1,387.4 526.6,387.1 524.0,386.8 521.4,386.6 518.9,386.3 516.3,386.1 513.8,385.8 511.2,385.6 508.6,385.4 506.1,385.1 503.5,384.9 501.0,384.6 498.4,384.4 495.8,384.2 493.3,383.9 490.7,383.6 488.2,383.4 485.6,383.1 483.0,382.8 480.5,382.5 477.9,382.3 475.4,382.0 472.8,381.8 470.2,381.6 467.7,381.4 465.1,381.3 462.6,381.2 460.0,381.1 457.4,381.1 454.9,381.0 452.3,381.0 449.7,381.1 447.1,381.1 444.6,381.2 442.0,381.2 439.4,381.4 436.8,381.5 434.3,381.6 431.7,381.8 429.2,382.0 426.7,382.2 424.2,382.4 421.7,382.7 419.0,383.0 416.3,383.3 413.6,383.7 410.9,384.0 408.2,384.4 405.6,384.8 402.9,385.2 400.3,385.7 397.7,386.2 395.2,386.8 392.7,387.3 390.2,387.9 387.8,388.6 385.0,389.4 382.3,390.3 379.6,391.2 377.0,392.1 374.4,393.1 371.9,394.2 369.4,395.3 367.0,396.4 364.7,397.6 362.4,398.8 360.0,400.3 357.8,401.9 355.6,403.7 353.5,405.5 351.4,407.3 349.4,408.9 347.4,410.3 345.4,411.5 342.4,412.9 339.5,414.0 336.6,414.7 333.6,414.9 331.2,414.6 328.7,413.9 326.2,413.0 323.5,412.0 320.9,411.0 318.1,410.2 315.6,409.6 313.0,409.0 310.4,408.4 307.7,407.8 305.0,407.4 302.2,407.0 299.5,406.9 296.8,407.1 294.4,407.4 292.0,407.9 289.6,408.5 287.1,409.3 284.6,410.1 282.2,411.1 279.8,412.2 277.5,413.4 275.2,414.7 273.1,416.1 271.1,417.6 269.2,419.3 267.4,421.1 265.7,423.1 263.9,425.2 262.3,427.3 260.6,429.4 259.0,431.6 257.3,433.6 255.7,435.6 254.0,437.5 252.1,439.5 250.3,441.5 248.5,443.6 246.7,445.5 244.9,447.5 243.0,449.3 241.2,451.1 239.4,452.7 237.5,454.1 235.1,455.5 232.5,456.7 229.9,457.6 227.5,458.5 225.2,459.7 223.2,461.2 221.6,463.1 220.2,465.1 219.0,467.4 217.9,469.8 216.9,472.4 216.0,475.0 215.2,477.7 214.5,481.1 213.9,484.7 213.4,488.3 212.9,491.6 212.5,494.3 212.1,496.1Z" fill="none" stroke="#e23030" stroke-width="4.2" stroke-linejoin="round"/>
<path d="M152,694.5 L152,113 L879,113 L879,694.5" fill="none" stroke="#000" stroke-width="4" stroke-linejoin="round" stroke-linecap="round"/>
<path d="M152,716 L152,1152 L879,1152 L879,716" fill="none" stroke="#000" stroke-width="4" stroke-linejoin="round" stroke-linecap="round"/>
<path d="M152,180.1h9M879,180.1h-9M152,247.3h19M879,247.3h-19M152,314.5h9M879,314.5h-9M152,381.7h19M879,381.7h-19M152,448.9h9M879,448.9h-9M152,516.1h19M879,516.1h-19M152,583.3h9M879,583.3h-9M152,650.5h19M879,650.5h-19M152,694.5h19M879,694.5h-19M220.7,113v9M290.0,113v19M359.3,113v9M428.6,113v19M497.9,113v9M567.1,113v19M636.4,113v9M705.7,113v19M775.0,113v9M844.3,113v19M152,1097.3h9M879,1097.3h-9M152,1042.7h19M879,1042.7h-19M152,988.0h9M879,988.0h-9M152,933.4h19M879,933.4h-19M152,878.8h9M879,878.8h-9M152,824.1h19M879,824.1h-19M152,769.5h9M879,769.5h-9M152,716.0h19M879,716.0h-19M162.6,1152v-19M267.8,1152v-9M372.9,1152v-19M478.0,1152v-9M583.2,1152v-19M688.4,1152v-9M793.5,1152v-19" fill="none" stroke="#000" stroke-width="4" stroke-linecap="butt"/>
<g font-family="Liberation Serif" fill="#000" font-size="38"><text x="151.4" y="88" text-anchor="middle">0.0</text><text x="290.0" y="88" text-anchor="middle">0.2</text><text x="428.6" y="88" text-anchor="middle">0.4</text><text x="567.1" y="88" text-anchor="middle">0.6</text><text x="705.7" y="88" text-anchor="middle">0.8</text><text x="844.3" y="88" text-anchor="middle">1.0</text><text x="130" y="124.2" text-anchor="end">30</text><text x="130" y="258.6" text-anchor="end">15</text><text x="130" y="393.0" text-anchor="end">0</text><text x="130" y="527.4" text-anchor="end">-15</text><text x="130" y="661.8" text-anchor="end">-30</text><text x="130" y="727.3" text-anchor="end">80</text><text x="130" y="836.6" text-anchor="end">60</text><text x="130" y="945.9" text-anchor="end">40</text><text x="130" y="1055.2" text-anchor="end">20</text><text x="130" y="1164.5" text-anchor="end">0</text><text x="162.6" y="1199" text-anchor="middle">0</text><text x="372.9" y="1199" text-anchor="middle">1000</text><text x="583.2" y="1199" text-anchor="middle">2000</text><text x="793.5" y="1199" text-anchor="middle">3000</text></g>
<text font-family="Liberation Serif" fill="#000" font-size="47" x="463.8" y="35.3"><tspan font-style="italic">E</tspan> <tspan font-size="49" dx="-1.5" dy="2.4">[</tspan><tspan dy="-2.4">V</tspan><tspan font-size="49" dx="-1.5" dy="2.4">]</tspan></text>
<text font-family="Liberation Serif" fill="#000" font-size="46.5" transform="translate(43.5,436) rotate(-90)"><tspan font-style="italic">i</tspan> <tspan font-size="49" dx="-1" dy="2.5">[</tspan><tspan dy="-2.5">mA cm</tspan><tspan font-size="31" dy="-19.5">-2</tspan><tspan dy="22" dx="-1" font-size="49">]</tspan></text>
<text font-family="Liberation Serif" fill="#000" font-size="44" transform="translate(51.6,1055) rotate(-90)"><tspan font-style="italic">ECSA</tspan><tspan dx="3.7"> </tspan><tspan font-size="48">[</tspan>m<tspan font-size="30" dy="-20">2</tspan><tspan font-size="30" dx="-15" dy="30.5">Pt</tspan><tspan dy="-10.5" dx="1"> g</tspan><tspan font-size="30" dy="-20">-1</tspan><tspan font-size="30" dx="-23.5" dy="30.5">Pt</tspan><tspan dy="-10.5" font-size="48">]</tspan></text>
<text font-family="Liberation Serif" fill="#000" font-size="45" x="448" y="1256">#<tspan font-size="30.5" dx="1.2" dy="13">E-Cycles</tspan></text>
<text font-family="Liberation Serif" fill="#000" font-size="60" font-weight="bold" x="856.5" y="180.3" text-anchor="end">a)</text>
<text font-family="Liberation Serif" fill="#000" font-size="60" font-weight="bold" x="859" y="757.5" text-anchor="end">b)</text>
<rect x="595" y="502" width="193" height="388" fill="#000"/>
<rect x="579.5" y="485.5" width="192.5" height="388" fill="#fff" stroke="#111" stroke-width="2.8"/>
<text font-family="Liberation Serif" fill="#000" font-size="37.5" font-weight="bold" x="766" y="525" text-anchor="end">E-Cycles</text>
<path d="M584,560.8H673" stroke="#000000" stroke-width="3.2"/>
<text font-family="Liberation Serif" fill="#000" font-size="37" x="681" y="572.8">BoT</text>
<path d="M584,608.7H673" stroke="#5810c0" stroke-width="3.2"/>
<text font-family="Liberation Serif" fill="#000" font-size="37" x="681" y="620.7">100</text>
<path d="M584,656.6H673" stroke="#1094e0" stroke-width="3.2"/>
<text font-family="Liberation Serif" fill="#000" font-size="37" x="681" y="668.6">200</text>
<path d="M584,704.5H673" stroke="#10c488" stroke-width="3.2"/>
<text font-family="Liberation Serif" fill="#000" font-size="37" x="681" y="716.5">400</text>
<path d="M584,752.4H673" stroke="#a2da40" stroke-width="3.2"/>
<text font-family="Liberation Serif" fill="#000" font-size="37" x="681" y="764.4">800</text>
<path d="M584,800.3H673" stroke="#dca236" stroke-width="3.2"/>
<text font-family="Liberation Serif" fill="#000" font-size="37" x="681" y="812.3">1600</text>
<path d="M584,848.2H673" stroke="#e23030" stroke-width="3.2"/>
<text font-family="Liberation Serif" fill="#000" font-size="37" x="681" y="860.2">3200</text>
<path d="M162.6,783.1L176.0,796.5L162.6,809.9L149.2,796.5Z" fill="#000000"/>
<path d="M152.1,782.2h21M152.1,810.8h21M162.6,782.2v28.6" stroke="#000000" stroke-width="2.8" fill="none"/>
<path d="M162.6,748.2L173.5,759.1L162.6,770.0L151.7,759.1Z" fill="#fff" stroke="#000000" stroke-width="3.8"/>
<path d="M152.1,752.1h21M152.1,766.1h21" stroke="#000000" stroke-width="2.8" fill="none"/>
<path d="M183.6,831.5L197.0,844.9L183.6,858.3L170.2,844.9Z" fill="#5810c0"/>
<path d="M183.6,762.4L194.5,773.3L183.6,784.2L172.7,773.3Z" fill="#fff" stroke="#5810c0" stroke-width="3.8"/>
<path d="M173.1,766.0h21M173.1,780.6h21" stroke="#5810c0" stroke-width="2.8" fill="none"/>
<path d="M204.7,858.8L218.1,872.2L204.7,885.6L191.3,872.2Z" fill="#1094e0"/>
<path d="M194.2,861.2h21M194.2,883.2h21M204.7,861.2v22" stroke="#1094e0" stroke-width="2.8" fill="none"/>
<path d="M204.7,765.1L215.6,776.0L204.7,786.9L193.8,776.0Z" fill="#fff" stroke="#1094e0" stroke-width="3.8"/>
<path d="M194.2,766.8h21M194.2,785.2h21" stroke="#1094e0" stroke-width="2.8" fill="none"/>
<path d="M246.7,896.8L260.1,910.2L246.7,923.6L233.3,910.2Z" fill="#10c488"/>
<path d="M246.7,773.3L257.6,784.2L246.7,795.1L235.8,784.2Z" fill="#fff" stroke="#10c488" stroke-width="3.8"/>
<path d="M236.2,776.9h21M236.2,791.5h21" stroke="#10c488" stroke-width="2.8" fill="none"/>
<path d="M330.8,937.5L344.2,950.9L330.8,964.3L317.4,950.9Z" fill="#a2da40"/>
<path d="M330.8,775.5L341.7,786.4L330.8,797.3L319.9,786.4Z" fill="#fff" stroke="#a2da40" stroke-width="3.8"/>
<path d="M320.3,782.9h21M320.3,789.9h21M330.8,778.4v16" stroke="#a2da40" stroke-width="1.8" fill="none"/>
<path d="M499.1,975.2L512.5,988.6L499.1,1002.0L485.7,988.6Z" fill="#dca236"/>
<path d="M488.6,982.3h21M488.6,994.9h21M499.1,982.3v12.6" stroke="#dca236" stroke-width="2.8" fill="none"/>
<path d="M499.1,775.5L510.0,786.4L499.1,797.3L488.2,786.4Z" fill="#fff" stroke="#dca236" stroke-width="3.8"/>
<path d="M488.6,779.4h21M488.6,793.4h21" stroke="#dca236" stroke-width="2.8" fill="none"/>
<path d="M835.6,1011.3L849.0,1024.7L835.6,1038.1L822.2,1024.7Z" fill="#e23030"/>
<path d="M835.6,781.0L846.5,791.9L835.6,802.8L824.7,791.9Z" fill="#fff" stroke="#e23030" stroke-width="3.8"/>
<path d="M825.1,791.1h21M825.1,792.7h21M835.6,783.9v16" stroke="#e23030" stroke-width="1.8" fill="none"/>
</svg></body></html>
